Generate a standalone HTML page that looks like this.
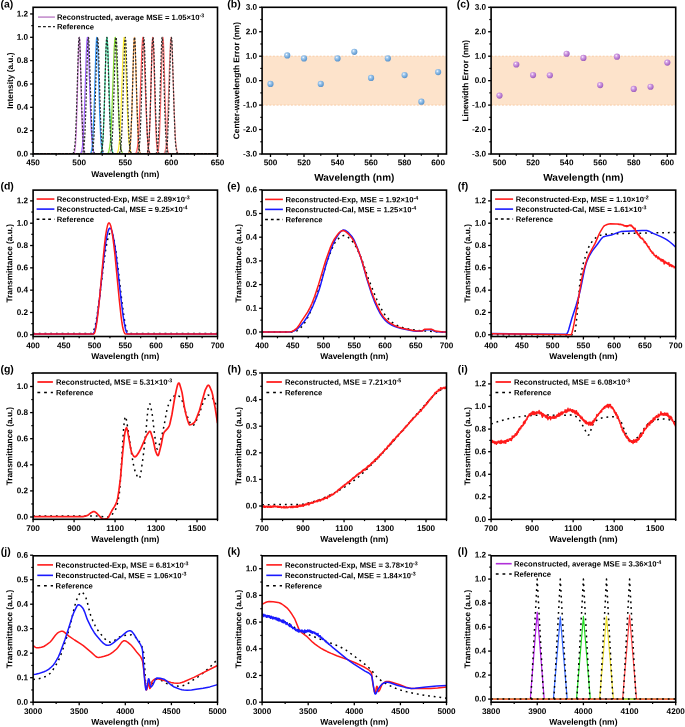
<!DOCTYPE html>
<html><head><meta charset="utf-8"><style>
html,body{margin:0;padding:0;background:#fff;}
svg{display:block;font-family:"Liberation Sans", sans-serif;will-change:transform;text-rendering:geometricPrecision;}
</style></head><body>
<svg width="685" height="727" viewBox="0 0 685 727">
<rect width="685" height="727" fill="#fff"/>
<clipPath id="c00"><rect x="33.1" y="7.3" width="184.4" height="146.7"/></clipPath>
<line x1="33.1" y1="154" x2="33.1" y2="157" stroke="#000" stroke-width="1.3"/>
<line x1="79.2" y1="154" x2="79.2" y2="157" stroke="#000" stroke-width="1.3"/>
<line x1="125.3" y1="154" x2="125.3" y2="157" stroke="#000" stroke-width="1.3"/>
<line x1="171.4" y1="154" x2="171.4" y2="157" stroke="#000" stroke-width="1.3"/>
<line x1="217.5" y1="154" x2="217.5" y2="157" stroke="#000" stroke-width="1.3"/>
<line x1="56.15" y1="154" x2="56.15" y2="155.8" stroke="#000" stroke-width="1.2"/>
<line x1="102.25" y1="154" x2="102.25" y2="155.8" stroke="#000" stroke-width="1.2"/>
<line x1="148.35" y1="154" x2="148.35" y2="155.8" stroke="#000" stroke-width="1.2"/>
<line x1="194.45" y1="154" x2="194.45" y2="155.8" stroke="#000" stroke-width="1.2"/>
<line x1="33.1" y1="154" x2="30.1" y2="154" stroke="#000" stroke-width="1.3"/>
<line x1="33.1" y1="130.66" x2="30.1" y2="130.66" stroke="#000" stroke-width="1.3"/>
<line x1="33.1" y1="107.32" x2="30.1" y2="107.32" stroke="#000" stroke-width="1.3"/>
<line x1="33.1" y1="83.98" x2="30.1" y2="83.98" stroke="#000" stroke-width="1.3"/>
<line x1="33.1" y1="60.64" x2="30.1" y2="60.64" stroke="#000" stroke-width="1.3"/>
<line x1="33.1" y1="37.3" x2="30.1" y2="37.3" stroke="#000" stroke-width="1.3"/>
<line x1="33.1" y1="13.96" x2="30.1" y2="13.96" stroke="#000" stroke-width="1.3"/>
<line x1="33.1" y1="142.33" x2="31.3" y2="142.33" stroke="#000" stroke-width="1.2"/>
<line x1="33.1" y1="118.99" x2="31.3" y2="118.99" stroke="#000" stroke-width="1.2"/>
<line x1="33.1" y1="95.65" x2="31.3" y2="95.65" stroke="#000" stroke-width="1.2"/>
<line x1="33.1" y1="72.31" x2="31.3" y2="72.31" stroke="#000" stroke-width="1.2"/>
<line x1="33.1" y1="48.97" x2="31.3" y2="48.97" stroke="#000" stroke-width="1.2"/>
<line x1="33.1" y1="25.63" x2="31.3" y2="25.63" stroke="#000" stroke-width="1.2"/>
<text x="33.1" y="165.3" font-size="8.2" text-anchor="middle" font-weight="bold" transform="rotate(0.03 33.1 165.3)">450</text>
<text x="79.2" y="165.3" font-size="8.2" text-anchor="middle" font-weight="bold" transform="rotate(0.03 79.2 165.3)">500</text>
<text x="125.3" y="165.3" font-size="8.2" text-anchor="middle" font-weight="bold" transform="rotate(0.03 125.3 165.3)">550</text>
<text x="171.4" y="165.3" font-size="8.2" text-anchor="middle" font-weight="bold" transform="rotate(0.03 171.4 165.3)">600</text>
<text x="217.5" y="165.3" font-size="8.2" text-anchor="middle" font-weight="bold" transform="rotate(0.03 217.5 165.3)">650</text>
<text x="28.1" y="156.46" font-size="8.2" text-anchor="end" font-weight="bold" transform="rotate(0.03 28.1 156.46)">0.0</text>
<text x="28.1" y="133.12" font-size="8.2" text-anchor="end" font-weight="bold" transform="rotate(0.03 28.1 133.12)">0.2</text>
<text x="28.1" y="109.78" font-size="8.2" text-anchor="end" font-weight="bold" transform="rotate(0.03 28.1 109.78)">0.4</text>
<text x="28.1" y="86.44" font-size="8.2" text-anchor="end" font-weight="bold" transform="rotate(0.03 28.1 86.44)">0.6</text>
<text x="28.1" y="63.1" font-size="8.2" text-anchor="end" font-weight="bold" transform="rotate(0.03 28.1 63.1)">0.8</text>
<text x="28.1" y="39.76" font-size="8.2" text-anchor="end" font-weight="bold" transform="rotate(0.03 28.1 39.76)">1.0</text>
<text x="28.1" y="16.42" font-size="8.2" text-anchor="end" font-weight="bold" transform="rotate(0.03 28.1 16.42)">1.2</text>
<text x="125.3" y="177" font-size="8.5" text-anchor="middle" font-weight="bold" transform="rotate(0.03 125.3 177)">Wavelength (nm)</text>
<text x="0" y="0" font-size="8.3" text-anchor="middle" font-weight="bold" transform="translate(13.1,80.65) rotate(-89.97)">Intensity (a.u.)</text>
<polyline points="33.1,154.0 72.3,154.0 73.6,153.7 74.0,153.3 74.4,152.7 74.9,150.6 75.4,147.1 76.2,134.4 77.0,110.2 78.5,50.7 79.0,40.0 79.3,37.3 79.4,37.5 79.7,39.7 80.1,50.1 81.7,113.8 82.5,136.5 83.0,144.2 83.5,148.9 84.0,152.0 84.4,152.9 84.8,153.6 85.7,153.9 87.3,154.0 217.5,154.0" fill="none" stroke="#d68ae0" stroke-width="1.2" stroke-linejoin="round" clip-path="url(#c00)"/>
<polyline points="33.1,154.0 78.4,154.0 79.4,153.9 80.1,153.7 80.7,153.2 81.2,152.4 81.9,150.2 82.4,146.6 83.0,140.5 83.5,133.5 84.4,112.3 86.3,52.2 86.9,41.0 87.3,37.8 87.5,37.3 87.7,38.1 88.0,40.3 88.5,50.8 90.5,110.6 91.5,134.4 92.1,142.6 92.8,148.6 93.5,151.7 94.0,152.8 94.4,153.4 94.9,153.7 95.5,153.9 97.4,154.0 217.5,154.0" fill="none" stroke="#a060ff" stroke-width="1.2" stroke-linejoin="round" clip-path="url(#c00)"/>
<polyline points="33.1,154.0 88.2,154.0 89.2,153.9 89.9,153.7 90.4,153.4 90.8,152.7 91.5,150.6 92.1,146.9 92.7,140.5 93.1,132.7 94.0,112.5 95.8,51.4 96.4,40.0 96.6,37.9 96.8,37.3 97.1,38.3 97.3,40.9 97.8,50.1 99.7,114.4 100.6,136.1 101.2,144.2 101.8,149.1 102.5,152.1 102.8,152.9 103.3,153.5 104.2,153.9 106.1,154.0 217.5,154.0" fill="none" stroke="#3399ff" stroke-width="1.2" stroke-linejoin="round" clip-path="url(#c00)"/>
<polyline points="33.1,154.0 98.2,154.0 99.9,153.8 100.4,153.5 100.9,153.0 101.3,152.1 101.7,150.8 102.2,147.4 102.8,141.2 103.3,133.7 104.2,110.4 105.9,52.6 106.5,40.6 106.7,38.2 107.0,37.3 107.2,38.0 107.4,40.3 108.0,52.1 109.9,113.4 110.8,135.5 111.2,142.5 111.8,148.1 112.5,151.6 112.9,152.6 113.3,153.3 113.8,153.7 114.2,153.9 116.1,154.0 217.5,154.0" fill="none" stroke="#33dd99" stroke-width="1.2" stroke-linejoin="round" clip-path="url(#c00)"/>
<polyline points="33.1,154.0 105.0,154.0 107.0,153.8 107.7,153.4 108.1,152.9 108.6,152.1 109.0,150.7 109.7,146.9 110.3,141.7 110.9,133.8 111.9,111.8 114.1,50.1 114.7,40.5 115.0,37.7 115.3,37.3 115.5,38.0 115.8,41.2 116.4,51.5 118.6,113.4 119.7,134.8 120.2,142.4 120.9,148.1 121.6,151.3 122.1,152.5 122.5,153.2 123.0,153.6 123.6,153.8 125.6,154.0 217.5,154.0" fill="none" stroke="#88dd33" stroke-width="1.2" stroke-linejoin="round" clip-path="url(#c00)"/>
<polyline points="33.1,154.0 114.1,154.0 116.2,153.8 116.8,153.5 117.2,153.0 117.7,152.2 118.2,150.8 118.8,147.1 119.4,141.8 120.0,133.6 121.0,110.7 123.1,50.4 123.7,40.4 124.0,37.7 124.1,37.3 124.3,37.3 124.5,38.2 124.8,41.7 125.4,52.8 127.4,110.3 128.4,133.4 129.0,141.6 129.7,147.8 130.4,151.2 130.8,152.4 131.3,153.2 131.8,153.6 132.3,153.8 134.3,154.0 217.5,154.0" fill="none" stroke="#ffee33" stroke-width="1.2" stroke-linejoin="round" clip-path="url(#c00)"/>
<polyline points="33.1,154.0 126.0,154.0 127.7,153.9 128.5,153.4 129.0,152.6 129.3,151.6 129.9,148.6 130.5,142.7 130.9,135.1 131.8,114.0 133.5,51.7 133.9,41.2 134.2,38.3 134.4,37.3 134.6,38.1 134.9,40.8 135.3,51.0 137.1,113.1 137.9,134.5 138.3,142.3 138.9,148.4 139.5,151.5 140.2,153.2 140.6,153.7 141.1,153.9 142.7,154.0 217.5,154.0" fill="none" stroke="#ffaa55" stroke-width="1.2" stroke-linejoin="round" clip-path="url(#c00)"/>
<polyline points="33.1,154.0 132.6,154.0 134.6,153.8 135.2,153.6 135.7,153.3 136.1,152.6 136.6,151.5 137.3,148.5 138.0,142.8 138.6,135.2 139.6,113.5 141.8,50.6 142.4,40.6 142.7,37.7 142.9,37.3 143.2,38.1 143.5,41.4 144.1,52.1 146.2,112.2 147.2,134.4 147.8,142.2 148.3,147.4 149.0,150.9 149.4,152.0 149.8,152.9 150.3,153.4 150.9,153.8 151.7,153.9 152.8,154.0 217.5,154.0" fill="none" stroke="#ff5555" stroke-width="1.2" stroke-linejoin="round" clip-path="url(#c00)"/>
<polyline points="33.1,154.0 144.4,154.0 146.2,153.9 147.0,153.5 147.4,152.8 147.8,151.9 148.3,148.9 148.9,143.0 149.4,135.2 150.2,113.4 151.9,49.5 152.4,39.8 152.7,37.3 153.0,38.1 153.2,40.9 153.7,51.7 155.3,112.1 156.1,134.5 156.5,142.5 157.0,147.7 157.6,151.3 158.1,153.0 158.5,153.4 159.0,153.8 160.5,154.0 217.5,154.0" fill="none" stroke="#ff6060" stroke-width="1.2" stroke-linejoin="round" clip-path="url(#c00)"/>
<polyline points="33.1,154.0 154.5,154.0 156.2,153.9 157.0,153.6 157.5,153.0 157.8,152.2 158.5,148.9 159.1,143.1 159.5,135.5 160.3,114.4 162.1,51.3 162.5,40.9 162.8,38.1 163.0,37.3 163.2,38.4 163.4,41.3 163.9,52.2 165.5,111.5 166.3,133.8 166.8,141.9 167.3,147.2 167.8,151.0 168.4,152.8 168.7,153.3 169.2,153.7 169.8,153.9 170.7,154.0 217.5,154.0" fill="none" stroke="#ff7070" stroke-width="1.2" stroke-linejoin="round" clip-path="url(#c00)"/>
<polyline points="33.1,154.0 160.8,154.0 162.9,153.9 163.9,153.5 164.4,153.0 164.8,152.1 165.3,150.5 165.6,148.8 166.3,143.1 166.9,135.3 167.9,112.5 170.0,50.3 170.6,40.1 170.8,38.1 171.1,37.3 171.3,37.8 171.6,41.0 172.2,51.9 174.2,111.2 175.1,132.5 175.5,139.7 176.1,146.0 176.7,149.8 177.3,152.0 177.7,152.9 178.3,153.5 179.0,153.8 180.0,154.0 217.5,154.0" fill="none" stroke="#f08a8a" stroke-width="1.2" stroke-linejoin="round" clip-path="url(#c00)"/>
<polyline points="33.1,154.0 71.2,154.0 72.2,153.9 72.7,153.7 73.2,153.2 73.7,152.4 74.2,150.2 74.8,146.0 75.3,140.4 75.7,132.1 76.5,110.4 78.3,50.4 78.7,40.7 79.0,38.2 79.2,37.3 79.4,38.2 79.7,40.7 80.1,50.4 82.0,114.0 82.9,136.6 83.3,143.5 83.9,148.9 84.6,152.1 85.0,152.9 85.4,153.5 86.3,153.9 88.2,154.0 217.5,154.0" fill="none" stroke="#2a2a2a" stroke-width="1.2" stroke-linejoin="round" stroke-dasharray="2.1,1.5" clip-path="url(#c00)"/>
<polyline points="33.1,154.0 80.4,154.0 81.3,153.9 81.9,153.7 82.3,153.4 82.8,152.7 83.5,150.2 84.0,146.0 84.5,140.4 85.0,132.1 85.8,110.4 87.5,50.4 88.0,40.7 88.2,38.2 88.4,37.3 88.7,38.2 88.9,40.7 89.3,50.4 91.2,114.0 92.1,136.6 92.6,143.5 93.1,148.9 93.8,152.1 94.2,152.9 94.6,153.5 95.6,153.9 97.3,154.0 217.5,154.0" fill="none" stroke="#2a2a2a" stroke-width="1.2" stroke-linejoin="round" stroke-dasharray="2.1,1.5" clip-path="url(#c00)"/>
<polyline points="33.1,154.0 89.3,154.0 91.0,153.8 91.4,153.5 91.9,152.9 92.6,150.8 93.1,147.1 93.6,142.0 94.1,134.4 95.0,110.4 96.7,50.4 97.2,40.7 97.4,38.2 97.6,37.3 97.9,38.2 98.1,40.7 98.6,50.4 100.4,114.0 101.3,136.6 101.8,143.5 102.4,148.9 103.1,152.1 103.4,152.9 103.9,153.5 104.8,153.9 106.5,154.0 217.5,154.0" fill="none" stroke="#2a2a2a" stroke-width="1.2" stroke-linejoin="round" stroke-dasharray="2.1,1.5" clip-path="url(#c00)"/>
<polyline points="33.1,154.0 98.4,154.0 100.1,153.8 100.5,153.6 101.0,153.1 101.7,151.3 102.2,148.0 102.8,142.0 103.3,134.4 104.2,110.4 105.9,50.4 106.4,40.7 106.6,38.2 106.9,37.3 107.1,38.2 107.3,40.7 107.8,50.4 109.5,110.4 110.4,134.4 110.9,142.0 111.5,148.0 112.2,151.7 112.5,152.7 113.0,153.4 113.4,153.7 113.9,153.9 115.6,154.0 217.5,154.0" fill="none" stroke="#2a2a2a" stroke-width="1.2" stroke-linejoin="round" stroke-dasharray="2.1,1.5" clip-path="url(#c00)"/>
<polyline points="33.1,154.0 107.6,154.0 109.3,153.8 109.7,153.6 110.2,153.1 110.9,151.3 111.5,148.0 112.0,142.0 112.5,134.4 113.4,110.4 115.2,50.4 115.6,40.7 115.8,38.2 116.1,37.3 116.3,38.2 116.5,40.7 117.0,50.4 118.7,110.4 119.7,134.4 120.1,142.0 120.7,148.0 121.4,151.7 121.7,152.7 122.2,153.4 122.6,153.7 123.1,153.9 124.8,154.0 217.5,154.0" fill="none" stroke="#2a2a2a" stroke-width="1.2" stroke-linejoin="round" stroke-dasharray="2.1,1.5" clip-path="url(#c00)"/>
<polyline points="33.1,154.0 116.7,154.0 118.4,153.9 118.8,153.7 119.3,153.2 119.8,152.4 120.1,151.3 120.7,148.0 121.3,142.0 121.7,134.4 122.6,110.4 124.4,50.4 124.8,40.7 125.1,38.2 125.3,37.3 125.5,38.2 125.8,40.7 126.2,50.4 128.0,110.4 128.9,134.4 129.3,142.0 129.9,148.0 130.5,151.3 130.8,152.4 131.3,153.2 131.8,153.7 132.2,153.9 133.9,154.0 217.5,154.0" fill="none" stroke="#2a2a2a" stroke-width="1.2" stroke-linejoin="round" stroke-dasharray="2.1,1.5" clip-path="url(#c00)"/>
<polyline points="33.1,154.0 125.8,154.0 127.5,153.9 128.0,153.7 128.4,153.4 128.9,152.7 129.2,151.7 129.9,148.0 130.5,142.0 130.9,134.4 131.9,110.4 133.6,50.4 134.1,40.7 134.3,38.2 134.5,37.3 134.8,38.2 135.0,40.7 135.4,50.4 137.2,110.4 138.1,134.4 138.6,142.0 139.1,148.0 139.7,151.3 140.4,153.1 140.9,153.6 141.3,153.8 143.0,154.0 217.5,154.0" fill="none" stroke="#2a2a2a" stroke-width="1.2" stroke-linejoin="round" stroke-dasharray="2.1,1.5" clip-path="url(#c00)"/>
<polyline points="33.1,154.0 135.0,154.0 136.7,153.9 137.2,153.7 137.6,153.4 138.1,152.7 138.4,151.7 139.1,148.0 139.7,142.0 140.2,134.4 141.1,110.4 142.8,50.4 143.3,40.7 143.5,38.2 143.7,37.3 144.0,38.2 144.2,40.7 144.7,50.4 146.4,110.4 147.3,134.4 147.8,142.0 148.3,148.0 148.9,151.3 149.6,153.1 150.1,153.6 150.5,153.8 152.2,154.0 217.5,154.0" fill="none" stroke="#2a2a2a" stroke-width="1.2" stroke-linejoin="round" stroke-dasharray="2.1,1.5" clip-path="url(#c00)"/>
<polyline points="33.1,154.0 144.1,154.0 145.8,153.9 146.7,153.5 147.2,152.9 147.5,152.1 148.2,148.9 148.8,143.5 149.3,136.6 150.2,114.0 152.0,50.4 152.5,40.7 152.7,38.2 153.0,37.3 153.2,38.2 153.4,40.7 153.9,50.4 155.6,110.4 156.5,134.4 157.0,142.0 157.5,147.1 158.0,150.8 158.7,152.9 159.2,153.5 159.6,153.8 161.3,154.0 217.5,154.0" fill="none" stroke="#2a2a2a" stroke-width="1.2" stroke-linejoin="round" stroke-dasharray="2.1,1.5" clip-path="url(#c00)"/>
<polyline points="33.1,154.0 153.3,154.0 155.0,153.9 156.0,153.5 156.4,152.9 156.8,152.1 157.5,148.9 158.0,143.5 158.5,136.6 159.4,114.0 161.3,50.4 161.7,40.7 161.9,38.2 162.2,37.3 162.4,38.2 162.6,40.7 163.1,50.4 164.8,110.4 165.6,132.1 166.1,140.4 166.6,146.0 167.1,150.2 167.8,152.7 168.3,153.4 168.7,153.7 169.3,153.9 170.2,154.0 217.5,154.0" fill="none" stroke="#2a2a2a" stroke-width="1.2" stroke-linejoin="round" stroke-dasharray="2.1,1.5" clip-path="url(#c00)"/>
<polyline points="33.1,154.0 162.4,154.0 164.3,153.9 165.2,153.5 165.6,152.9 166.0,152.1 166.7,148.9 167.3,143.5 167.7,136.6 168.6,114.0 170.5,50.4 170.9,40.7 171.2,38.2 171.4,37.3 171.6,38.2 171.9,40.7 172.3,50.4 174.1,110.4 174.9,132.1 175.3,140.4 175.8,146.0 176.4,150.2 176.9,152.4 177.4,153.2 177.9,153.7 178.4,153.9 179.4,154.0 217.5,154.0" fill="none" stroke="#2a2a2a" stroke-width="1.2" stroke-linejoin="round" stroke-dasharray="2.1,1.5" clip-path="url(#c00)"/>
<rect x="33.1" y="7.3" width="184.4" height="146.7" fill="none" stroke="#000" stroke-width="1.6"/>
<line x1="38" y1="17.1" x2="54.9" y2="17.1" stroke="#c58fcd" stroke-width="1.6"/>
<text x="56.9" y="19.87" font-size="7.7" text-anchor="start" font-weight="bold" transform="rotate(0.03 56.9 19.87)">Reconstructed, average MSE = 1.05×10<tspan dy="-2.6" font-size="5.3">-3</tspan></text>
<line x1="38" y1="26.6" x2="54.9" y2="26.6" stroke="#222" stroke-width="1.2" stroke-dasharray="2.85,2.15"/>
<text x="56.9" y="29.37" font-size="7.7" text-anchor="start" font-weight="bold" transform="rotate(0.03 56.9 29.37)">Reference</text>
<text x="0.4" y="7.6" font-size="10.5" text-anchor="start" font-weight="bold" transform="rotate(0.03 0.4 7.6)">(a)</text>
<defs><radialGradient id="gb" cx="0.38" cy="0.35" r="0.7"><stop offset="0" stop-color="#ffffff"/><stop offset="0.25" stop-color="#a8cdf0"/><stop offset="0.7" stop-color="#6fa6d8"/><stop offset="1" stop-color="#5a90c8"/></radialGradient><radialGradient id="gp" cx="0.38" cy="0.35" r="0.7"><stop offset="0" stop-color="#ffffff"/><stop offset="0.25" stop-color="#d9a8e8"/><stop offset="0.7" stop-color="#b274cc"/><stop offset="1" stop-color="#9a5ab8"/></radialGradient></defs>
<rect x="262.1" y="56.2" width="184.4" height="48.9" fill="#fde3cb"/>
<line x1="262.1" y1="56.2" x2="446.5" y2="56.2" stroke="#f8c498" stroke-width="0.8" stroke-dasharray="2,1.6"/>
<line x1="262.1" y1="105.1" x2="446.5" y2="105.1" stroke="#f8c498" stroke-width="0.8" stroke-dasharray="2,1.6"/>
<clipPath id="c10"><rect x="262.1" y="7.3" width="184.4" height="146.7"/></clipPath>
<line x1="270.48" y1="154" x2="270.48" y2="157" stroke="#000" stroke-width="1.3"/>
<line x1="304.01" y1="154" x2="304.01" y2="157" stroke="#000" stroke-width="1.3"/>
<line x1="337.54" y1="154" x2="337.54" y2="157" stroke="#000" stroke-width="1.3"/>
<line x1="371.06" y1="154" x2="371.06" y2="157" stroke="#000" stroke-width="1.3"/>
<line x1="404.59" y1="154" x2="404.59" y2="157" stroke="#000" stroke-width="1.3"/>
<line x1="438.12" y1="154" x2="438.12" y2="157" stroke="#000" stroke-width="1.3"/>
<line x1="287.25" y1="154" x2="287.25" y2="155.8" stroke="#000" stroke-width="1.2"/>
<line x1="320.77" y1="154" x2="320.77" y2="155.8" stroke="#000" stroke-width="1.2"/>
<line x1="354.3" y1="154" x2="354.3" y2="155.8" stroke="#000" stroke-width="1.2"/>
<line x1="387.83" y1="154" x2="387.83" y2="155.8" stroke="#000" stroke-width="1.2"/>
<line x1="421.35" y1="154" x2="421.35" y2="155.8" stroke="#000" stroke-width="1.2"/>
<line x1="262.1" y1="154" x2="259.1" y2="154" stroke="#000" stroke-width="1.3"/>
<line x1="262.1" y1="129.55" x2="259.1" y2="129.55" stroke="#000" stroke-width="1.3"/>
<line x1="262.1" y1="105.1" x2="259.1" y2="105.1" stroke="#000" stroke-width="1.3"/>
<line x1="262.1" y1="80.65" x2="259.1" y2="80.65" stroke="#000" stroke-width="1.3"/>
<line x1="262.1" y1="56.2" x2="259.1" y2="56.2" stroke="#000" stroke-width="1.3"/>
<line x1="262.1" y1="31.75" x2="259.1" y2="31.75" stroke="#000" stroke-width="1.3"/>
<line x1="262.1" y1="7.3" x2="259.1" y2="7.3" stroke="#000" stroke-width="1.3"/>
<line x1="262.1" y1="141.78" x2="260.3" y2="141.78" stroke="#000" stroke-width="1.2"/>
<line x1="262.1" y1="117.33" x2="260.3" y2="117.33" stroke="#000" stroke-width="1.2"/>
<line x1="262.1" y1="92.88" x2="260.3" y2="92.88" stroke="#000" stroke-width="1.2"/>
<line x1="262.1" y1="68.43" x2="260.3" y2="68.43" stroke="#000" stroke-width="1.2"/>
<line x1="262.1" y1="43.98" x2="260.3" y2="43.98" stroke="#000" stroke-width="1.2"/>
<line x1="262.1" y1="19.53" x2="260.3" y2="19.53" stroke="#000" stroke-width="1.2"/>
<text x="270.48" y="165.3" font-size="8.2" text-anchor="middle" font-weight="bold" transform="rotate(0.03 270.48 165.3)">500</text>
<text x="304.01" y="165.3" font-size="8.2" text-anchor="middle" font-weight="bold" transform="rotate(0.03 304.01 165.3)">520</text>
<text x="337.54" y="165.3" font-size="8.2" text-anchor="middle" font-weight="bold" transform="rotate(0.03 337.54 165.3)">540</text>
<text x="371.06" y="165.3" font-size="8.2" text-anchor="middle" font-weight="bold" transform="rotate(0.03 371.06 165.3)">560</text>
<text x="404.59" y="165.3" font-size="8.2" text-anchor="middle" font-weight="bold" transform="rotate(0.03 404.59 165.3)">580</text>
<text x="438.12" y="165.3" font-size="8.2" text-anchor="middle" font-weight="bold" transform="rotate(0.03 438.12 165.3)">600</text>
<text x="257.1" y="156.46" font-size="8.2" text-anchor="end" font-weight="bold" transform="rotate(0.03 257.1 156.46)">-3.0</text>
<text x="257.1" y="132.01" font-size="8.2" text-anchor="end" font-weight="bold" transform="rotate(0.03 257.1 132.01)">-2.0</text>
<text x="257.1" y="107.56" font-size="8.2" text-anchor="end" font-weight="bold" transform="rotate(0.03 257.1 107.56)">-1.0</text>
<text x="257.1" y="83.11" font-size="8.2" text-anchor="end" font-weight="bold" transform="rotate(0.03 257.1 83.11)">0.0</text>
<text x="257.1" y="58.66" font-size="8.2" text-anchor="end" font-weight="bold" transform="rotate(0.03 257.1 58.66)">1.0</text>
<text x="257.1" y="34.21" font-size="8.2" text-anchor="end" font-weight="bold" transform="rotate(0.03 257.1 34.21)">2.0</text>
<text x="257.1" y="9.76" font-size="8.2" text-anchor="end" font-weight="bold" transform="rotate(0.03 257.1 9.76)">3.0</text>
<text x="354.3" y="180.7" font-size="10" text-anchor="middle" font-weight="bold" transform="rotate(0.03 354.3 180.7)">Wavelength (nm)</text>
<text x="0" y="0" font-size="8.3" text-anchor="middle" font-weight="bold" transform="translate(239.2,80.65) rotate(-89.97)">Center-wavelength Error (nm)</text>
<circle cx="270.48" cy="83.95" r="3.1" fill="url(#gb)"/>
<circle cx="287.25" cy="55.47" r="3.1" fill="url(#gb)"/>
<circle cx="304.01" cy="58.4" r="3.1" fill="url(#gb)"/>
<circle cx="320.77" cy="83.95" r="3.1" fill="url(#gb)"/>
<circle cx="337.54" cy="58.4" r="3.1" fill="url(#gb)"/>
<circle cx="354.3" cy="51.8" r="3.1" fill="url(#gb)"/>
<circle cx="371.06" cy="77.96" r="3.1" fill="url(#gb)"/>
<circle cx="387.83" cy="58.4" r="3.1" fill="url(#gb)"/>
<circle cx="404.59" cy="75.03" r="3.1" fill="url(#gb)"/>
<circle cx="421.35" cy="101.68" r="3.1" fill="url(#gb)"/>
<circle cx="438.12" cy="72.09" r="3.1" fill="url(#gb)"/>
<rect x="262.1" y="7.3" width="184.4" height="146.7" fill="none" stroke="#000" stroke-width="1.6"/>
<text x="227.3" y="7.6" font-size="10.5" text-anchor="start" font-weight="bold" transform="rotate(0.03 227.3 7.6)">(b)</text>
<rect x="491.1" y="56.2" width="184.6" height="48.9" fill="#fde3cb"/>
<line x1="491.1" y1="56.2" x2="675.7" y2="56.2" stroke="#f8c498" stroke-width="0.8" stroke-dasharray="2,1.6"/>
<line x1="491.1" y1="105.1" x2="675.7" y2="105.1" stroke="#f8c498" stroke-width="0.8" stroke-dasharray="2,1.6"/>
<clipPath id="c20"><rect x="491.1" y="7.3" width="184.6" height="146.7"/></clipPath>
<line x1="499.49" y1="154" x2="499.49" y2="157" stroke="#000" stroke-width="1.3"/>
<line x1="533.05" y1="154" x2="533.05" y2="157" stroke="#000" stroke-width="1.3"/>
<line x1="566.62" y1="154" x2="566.62" y2="157" stroke="#000" stroke-width="1.3"/>
<line x1="600.18" y1="154" x2="600.18" y2="157" stroke="#000" stroke-width="1.3"/>
<line x1="633.75" y1="154" x2="633.75" y2="157" stroke="#000" stroke-width="1.3"/>
<line x1="667.31" y1="154" x2="667.31" y2="157" stroke="#000" stroke-width="1.3"/>
<line x1="516.27" y1="154" x2="516.27" y2="155.8" stroke="#000" stroke-width="1.2"/>
<line x1="549.84" y1="154" x2="549.84" y2="155.8" stroke="#000" stroke-width="1.2"/>
<line x1="583.4" y1="154" x2="583.4" y2="155.8" stroke="#000" stroke-width="1.2"/>
<line x1="616.96" y1="154" x2="616.96" y2="155.8" stroke="#000" stroke-width="1.2"/>
<line x1="650.53" y1="154" x2="650.53" y2="155.8" stroke="#000" stroke-width="1.2"/>
<line x1="491.1" y1="154" x2="488.1" y2="154" stroke="#000" stroke-width="1.3"/>
<line x1="491.1" y1="129.55" x2="488.1" y2="129.55" stroke="#000" stroke-width="1.3"/>
<line x1="491.1" y1="105.1" x2="488.1" y2="105.1" stroke="#000" stroke-width="1.3"/>
<line x1="491.1" y1="80.65" x2="488.1" y2="80.65" stroke="#000" stroke-width="1.3"/>
<line x1="491.1" y1="56.2" x2="488.1" y2="56.2" stroke="#000" stroke-width="1.3"/>
<line x1="491.1" y1="31.75" x2="488.1" y2="31.75" stroke="#000" stroke-width="1.3"/>
<line x1="491.1" y1="7.3" x2="488.1" y2="7.3" stroke="#000" stroke-width="1.3"/>
<line x1="491.1" y1="141.78" x2="489.3" y2="141.78" stroke="#000" stroke-width="1.2"/>
<line x1="491.1" y1="117.33" x2="489.3" y2="117.33" stroke="#000" stroke-width="1.2"/>
<line x1="491.1" y1="92.88" x2="489.3" y2="92.88" stroke="#000" stroke-width="1.2"/>
<line x1="491.1" y1="68.43" x2="489.3" y2="68.43" stroke="#000" stroke-width="1.2"/>
<line x1="491.1" y1="43.98" x2="489.3" y2="43.98" stroke="#000" stroke-width="1.2"/>
<line x1="491.1" y1="19.53" x2="489.3" y2="19.53" stroke="#000" stroke-width="1.2"/>
<text x="499.49" y="165.3" font-size="8.2" text-anchor="middle" font-weight="bold" transform="rotate(0.03 499.49 165.3)">500</text>
<text x="533.05" y="165.3" font-size="8.2" text-anchor="middle" font-weight="bold" transform="rotate(0.03 533.05 165.3)">520</text>
<text x="566.62" y="165.3" font-size="8.2" text-anchor="middle" font-weight="bold" transform="rotate(0.03 566.62 165.3)">540</text>
<text x="600.18" y="165.3" font-size="8.2" text-anchor="middle" font-weight="bold" transform="rotate(0.03 600.18 165.3)">560</text>
<text x="633.75" y="165.3" font-size="8.2" text-anchor="middle" font-weight="bold" transform="rotate(0.03 633.75 165.3)">580</text>
<text x="667.31" y="165.3" font-size="8.2" text-anchor="middle" font-weight="bold" transform="rotate(0.03 667.31 165.3)">600</text>
<text x="486.1" y="156.46" font-size="8.2" text-anchor="end" font-weight="bold" transform="rotate(0.03 486.1 156.46)">-3.0</text>
<text x="486.1" y="132.01" font-size="8.2" text-anchor="end" font-weight="bold" transform="rotate(0.03 486.1 132.01)">-2.0</text>
<text x="486.1" y="107.56" font-size="8.2" text-anchor="end" font-weight="bold" transform="rotate(0.03 486.1 107.56)">-1.0</text>
<text x="486.1" y="83.11" font-size="8.2" text-anchor="end" font-weight="bold" transform="rotate(0.03 486.1 83.11)">0.0</text>
<text x="486.1" y="58.66" font-size="8.2" text-anchor="end" font-weight="bold" transform="rotate(0.03 486.1 58.66)">1.0</text>
<text x="486.1" y="34.21" font-size="8.2" text-anchor="end" font-weight="bold" transform="rotate(0.03 486.1 34.21)">2.0</text>
<text x="486.1" y="9.76" font-size="8.2" text-anchor="end" font-weight="bold" transform="rotate(0.03 486.1 9.76)">3.0</text>
<text x="583.4" y="180.7" font-size="10" text-anchor="middle" font-weight="bold" transform="rotate(0.03 583.4 180.7)">Wavelength (nm)</text>
<text x="0" y="0" font-size="8.3" text-anchor="middle" font-weight="bold" transform="translate(468.2,80.65) rotate(-89.97)">Linewidth Error (nm)</text>
<circle cx="499.49" cy="95.56" r="3.1" fill="url(#gp)"/>
<circle cx="516.27" cy="64.51" r="3.1" fill="url(#gp)"/>
<circle cx="533.05" cy="75.03" r="3.1" fill="url(#gp)"/>
<circle cx="549.84" cy="75.27" r="3.1" fill="url(#gp)"/>
<circle cx="566.62" cy="53.76" r="3.1" fill="url(#gp)"/>
<circle cx="583.4" cy="57.91" r="3.1" fill="url(#gp)"/>
<circle cx="600.18" cy="85.05" r="3.1" fill="url(#gp)"/>
<circle cx="616.96" cy="56.69" r="3.1" fill="url(#gp)"/>
<circle cx="633.75" cy="88.96" r="3.1" fill="url(#gp)"/>
<circle cx="650.53" cy="86.76" r="3.1" fill="url(#gp)"/>
<circle cx="667.31" cy="62.56" r="3.1" fill="url(#gp)"/>
<rect x="491.1" y="7.3" width="184.6" height="146.7" fill="none" stroke="#000" stroke-width="1.6"/>
<text x="456.8" y="7.6" font-size="10.5" text-anchor="start" font-weight="bold" transform="rotate(0.03 456.8 7.6)">(c)</text>
<clipPath id="c01"><rect x="33.1" y="190.1" width="184.4" height="146.4"/></clipPath>
<line x1="33.1" y1="336.5" x2="33.1" y2="339.5" stroke="#000" stroke-width="1.3"/>
<line x1="63.83" y1="336.5" x2="63.83" y2="339.5" stroke="#000" stroke-width="1.3"/>
<line x1="94.57" y1="336.5" x2="94.57" y2="339.5" stroke="#000" stroke-width="1.3"/>
<line x1="125.3" y1="336.5" x2="125.3" y2="339.5" stroke="#000" stroke-width="1.3"/>
<line x1="156.03" y1="336.5" x2="156.03" y2="339.5" stroke="#000" stroke-width="1.3"/>
<line x1="186.77" y1="336.5" x2="186.77" y2="339.5" stroke="#000" stroke-width="1.3"/>
<line x1="217.5" y1="336.5" x2="217.5" y2="339.5" stroke="#000" stroke-width="1.3"/>
<line x1="48.47" y1="336.5" x2="48.47" y2="338.3" stroke="#000" stroke-width="1.2"/>
<line x1="79.2" y1="336.5" x2="79.2" y2="338.3" stroke="#000" stroke-width="1.2"/>
<line x1="109.93" y1="336.5" x2="109.93" y2="338.3" stroke="#000" stroke-width="1.2"/>
<line x1="140.67" y1="336.5" x2="140.67" y2="338.3" stroke="#000" stroke-width="1.2"/>
<line x1="171.4" y1="336.5" x2="171.4" y2="338.3" stroke="#000" stroke-width="1.2"/>
<line x1="202.13" y1="336.5" x2="202.13" y2="338.3" stroke="#000" stroke-width="1.2"/>
<line x1="33.1" y1="334.8" x2="30.1" y2="334.8" stroke="#000" stroke-width="1.3"/>
<line x1="33.1" y1="312.48" x2="30.1" y2="312.48" stroke="#000" stroke-width="1.3"/>
<line x1="33.1" y1="290.16" x2="30.1" y2="290.16" stroke="#000" stroke-width="1.3"/>
<line x1="33.1" y1="267.84" x2="30.1" y2="267.84" stroke="#000" stroke-width="1.3"/>
<line x1="33.1" y1="245.52" x2="30.1" y2="245.52" stroke="#000" stroke-width="1.3"/>
<line x1="33.1" y1="223.2" x2="30.1" y2="223.2" stroke="#000" stroke-width="1.3"/>
<line x1="33.1" y1="200.88" x2="30.1" y2="200.88" stroke="#000" stroke-width="1.3"/>
<line x1="33.1" y1="323.64" x2="31.3" y2="323.64" stroke="#000" stroke-width="1.2"/>
<line x1="33.1" y1="301.32" x2="31.3" y2="301.32" stroke="#000" stroke-width="1.2"/>
<line x1="33.1" y1="279" x2="31.3" y2="279" stroke="#000" stroke-width="1.2"/>
<line x1="33.1" y1="256.68" x2="31.3" y2="256.68" stroke="#000" stroke-width="1.2"/>
<line x1="33.1" y1="234.36" x2="31.3" y2="234.36" stroke="#000" stroke-width="1.2"/>
<line x1="33.1" y1="212.04" x2="31.3" y2="212.04" stroke="#000" stroke-width="1.2"/>
<text x="33.1" y="348.2" font-size="8.2" text-anchor="middle" font-weight="bold" transform="rotate(0.03 33.1 348.2)">400</text>
<text x="63.83" y="348.2" font-size="8.2" text-anchor="middle" font-weight="bold" transform="rotate(0.03 63.83 348.2)">450</text>
<text x="94.57" y="348.2" font-size="8.2" text-anchor="middle" font-weight="bold" transform="rotate(0.03 94.57 348.2)">500</text>
<text x="125.3" y="348.2" font-size="8.2" text-anchor="middle" font-weight="bold" transform="rotate(0.03 125.3 348.2)">550</text>
<text x="156.03" y="348.2" font-size="8.2" text-anchor="middle" font-weight="bold" transform="rotate(0.03 156.03 348.2)">600</text>
<text x="186.77" y="348.2" font-size="8.2" text-anchor="middle" font-weight="bold" transform="rotate(0.03 186.77 348.2)">650</text>
<text x="217.5" y="348.2" font-size="8.2" text-anchor="middle" font-weight="bold" transform="rotate(0.03 217.5 348.2)">700</text>
<text x="28.1" y="337.26" font-size="8.2" text-anchor="end" font-weight="bold" transform="rotate(0.03 28.1 337.26)">0.0</text>
<text x="28.1" y="314.94" font-size="8.2" text-anchor="end" font-weight="bold" transform="rotate(0.03 28.1 314.94)">0.2</text>
<text x="28.1" y="292.62" font-size="8.2" text-anchor="end" font-weight="bold" transform="rotate(0.03 28.1 292.62)">0.4</text>
<text x="28.1" y="270.3" font-size="8.2" text-anchor="end" font-weight="bold" transform="rotate(0.03 28.1 270.3)">0.6</text>
<text x="28.1" y="247.98" font-size="8.2" text-anchor="end" font-weight="bold" transform="rotate(0.03 28.1 247.98)">0.8</text>
<text x="28.1" y="225.66" font-size="8.2" text-anchor="end" font-weight="bold" transform="rotate(0.03 28.1 225.66)">1.0</text>
<text x="28.1" y="203.34" font-size="8.2" text-anchor="end" font-weight="bold" transform="rotate(0.03 28.1 203.34)">1.2</text>
<text x="125.3" y="359.1" font-size="8.5" text-anchor="middle" font-weight="bold" transform="rotate(0.03 125.3 359.1)">Wavelength (nm)</text>
<text x="0" y="0" font-size="8.3" text-anchor="middle" font-weight="bold" transform="translate(12.2,263.3) rotate(-89.97)">Transmittance (a.u.)</text>
<polyline points="33.1,333.5 91.8,333.5 92.1,333.4 92.7,332.9 93.6,331.1 94.9,327.1 95.8,322.9 97.0,315.9 99.2,300.5 104.1,260.7 105.3,252.1 106.6,244.6 107.8,238.8 108.7,235.6 109.3,234.1 109.9,233.0 110.5,232.5 110.9,232.5 111.2,232.5 111.8,233.1 112.7,235.1 113.6,238.3 114.9,244.5 116.1,252.4 117.3,261.8 121.9,301.7 123.8,315.7 125.0,323.2 125.9,327.6 126.5,329.9 127.1,331.6 128.1,333.2 128.7,333.5 217.5,333.5" fill="none" stroke="#000" stroke-width="1.5" stroke-linejoin="round" stroke-dasharray="1.8,3.9" clip-path="url(#c01)"/>
<polyline points="33.1,334.1 92.7,334.1 93.0,334.0 93.6,333.4 94.6,331.2 95.5,327.5 96.4,322.6 97.6,314.2 99.5,298.6 103.8,258.1 105.9,241.6 107.2,234.7 108.1,231.1 109.0,228.9 109.6,228.2 109.9,228.1 110.2,228.2 110.9,228.8 111.8,230.8 112.7,234.1 113.9,240.3 115.2,248.4 116.4,257.9 121.0,299.1 123.1,316.0 124.4,323.7 125.3,328.2 125.9,330.5 126.5,332.3 127.5,333.8 128.1,334.1 217.5,334.1" fill="none" stroke="#1a1aff" stroke-width="1.5" stroke-linejoin="round" clip-path="url(#c01)"/>
<polyline points="33.1,333.9 93.6,333.9 94.0,333.8 94.3,333.5 94.6,332.9 95.2,331.2 96.1,327.0 97.0,321.2 97.9,313.8 99.5,298.8 103.5,254.7 104.7,243.0 105.6,235.6 106.6,229.7 107.5,225.6 108.1,223.8 108.4,223.3 108.7,223.0 109.0,222.9 109.3,223.0 109.9,223.7 110.9,226.3 111.8,230.6 112.7,236.3 113.6,243.4 114.9,254.5 119.2,299.3 121.0,315.9 121.9,322.5 122.8,327.8 123.8,331.5 124.7,333.5 125.0,333.8 125.3,333.9 217.5,333.9" fill="none" stroke="#ff1a1a" stroke-width="1.5" stroke-linejoin="round" clip-path="url(#c01)"/>
<rect x="33.1" y="190.1" width="184.4" height="146.4" fill="none" stroke="#000" stroke-width="1.6"/>
<line x1="36.6" y1="199.05" x2="54.4" y2="199.05" stroke="#ff1a1a" stroke-width="1.6"/>
<text x="56.8" y="201.82" font-size="7.7" text-anchor="start" font-weight="bold" transform="rotate(0.03 56.8 201.82)">Reconstructed-Exp, MSE = 2.89×10<tspan dy="-2.6" font-size="5.3">-3</tspan></text>
<line x1="36.6" y1="209.1" x2="54.4" y2="209.1" stroke="#1a1aff" stroke-width="1.6"/>
<text x="56.8" y="211.87" font-size="7.7" text-anchor="start" font-weight="bold" transform="rotate(0.03 56.8 211.87)">Reconstructed-Cal, MSE = 9.25×10<tspan dy="-2.6" font-size="5.3">-4</tspan></text>
<line x1="36.6" y1="219.15" x2="54.4" y2="219.15" stroke="#000" stroke-width="1.5" stroke-dasharray="2.8,3.0"/>
<text x="56.8" y="221.92" font-size="7.7" text-anchor="start" font-weight="bold" transform="rotate(0.03 56.8 221.92)">Reference</text>
<text x="0.4" y="189.5" font-size="10.5" text-anchor="start" font-weight="bold" transform="rotate(0.03 0.4 189.5)">(d)</text>
<clipPath id="c11"><rect x="262.1" y="190.1" width="184.4" height="146.4"/></clipPath>
<line x1="262.1" y1="336.5" x2="262.1" y2="339.5" stroke="#000" stroke-width="1.3"/>
<line x1="292.83" y1="336.5" x2="292.83" y2="339.5" stroke="#000" stroke-width="1.3"/>
<line x1="323.57" y1="336.5" x2="323.57" y2="339.5" stroke="#000" stroke-width="1.3"/>
<line x1="354.3" y1="336.5" x2="354.3" y2="339.5" stroke="#000" stroke-width="1.3"/>
<line x1="385.03" y1="336.5" x2="385.03" y2="339.5" stroke="#000" stroke-width="1.3"/>
<line x1="415.77" y1="336.5" x2="415.77" y2="339.5" stroke="#000" stroke-width="1.3"/>
<line x1="446.5" y1="336.5" x2="446.5" y2="339.5" stroke="#000" stroke-width="1.3"/>
<line x1="277.47" y1="336.5" x2="277.47" y2="338.3" stroke="#000" stroke-width="1.2"/>
<line x1="308.2" y1="336.5" x2="308.2" y2="338.3" stroke="#000" stroke-width="1.2"/>
<line x1="338.93" y1="336.5" x2="338.93" y2="338.3" stroke="#000" stroke-width="1.2"/>
<line x1="369.67" y1="336.5" x2="369.67" y2="338.3" stroke="#000" stroke-width="1.2"/>
<line x1="400.4" y1="336.5" x2="400.4" y2="338.3" stroke="#000" stroke-width="1.2"/>
<line x1="431.13" y1="336.5" x2="431.13" y2="338.3" stroke="#000" stroke-width="1.2"/>
<line x1="262.1" y1="332" x2="259.1" y2="332" stroke="#000" stroke-width="1.3"/>
<line x1="262.1" y1="308.3" x2="259.1" y2="308.3" stroke="#000" stroke-width="1.3"/>
<line x1="262.1" y1="284.6" x2="259.1" y2="284.6" stroke="#000" stroke-width="1.3"/>
<line x1="262.1" y1="260.9" x2="259.1" y2="260.9" stroke="#000" stroke-width="1.3"/>
<line x1="262.1" y1="237.2" x2="259.1" y2="237.2" stroke="#000" stroke-width="1.3"/>
<line x1="262.1" y1="213.5" x2="259.1" y2="213.5" stroke="#000" stroke-width="1.3"/>
<line x1="262.1" y1="189.8" x2="259.1" y2="189.8" stroke="#000" stroke-width="1.3"/>
<line x1="262.1" y1="320.15" x2="260.3" y2="320.15" stroke="#000" stroke-width="1.2"/>
<line x1="262.1" y1="296.45" x2="260.3" y2="296.45" stroke="#000" stroke-width="1.2"/>
<line x1="262.1" y1="272.75" x2="260.3" y2="272.75" stroke="#000" stroke-width="1.2"/>
<line x1="262.1" y1="249.05" x2="260.3" y2="249.05" stroke="#000" stroke-width="1.2"/>
<line x1="262.1" y1="225.35" x2="260.3" y2="225.35" stroke="#000" stroke-width="1.2"/>
<line x1="262.1" y1="201.65" x2="260.3" y2="201.65" stroke="#000" stroke-width="1.2"/>
<text x="262.1" y="348.2" font-size="8.2" text-anchor="middle" font-weight="bold" transform="rotate(0.03 262.1 348.2)">400</text>
<text x="292.83" y="348.2" font-size="8.2" text-anchor="middle" font-weight="bold" transform="rotate(0.03 292.83 348.2)">450</text>
<text x="323.57" y="348.2" font-size="8.2" text-anchor="middle" font-weight="bold" transform="rotate(0.03 323.57 348.2)">500</text>
<text x="354.3" y="348.2" font-size="8.2" text-anchor="middle" font-weight="bold" transform="rotate(0.03 354.3 348.2)">550</text>
<text x="385.03" y="348.2" font-size="8.2" text-anchor="middle" font-weight="bold" transform="rotate(0.03 385.03 348.2)">600</text>
<text x="415.77" y="348.2" font-size="8.2" text-anchor="middle" font-weight="bold" transform="rotate(0.03 415.77 348.2)">650</text>
<text x="446.5" y="348.2" font-size="8.2" text-anchor="middle" font-weight="bold" transform="rotate(0.03 446.5 348.2)">700</text>
<text x="257.1" y="334.46" font-size="8.2" text-anchor="end" font-weight="bold" transform="rotate(0.03 257.1 334.46)">0.0</text>
<text x="257.1" y="310.76" font-size="8.2" text-anchor="end" font-weight="bold" transform="rotate(0.03 257.1 310.76)">0.1</text>
<text x="257.1" y="287.06" font-size="8.2" text-anchor="end" font-weight="bold" transform="rotate(0.03 257.1 287.06)">0.2</text>
<text x="257.1" y="263.36" font-size="8.2" text-anchor="end" font-weight="bold" transform="rotate(0.03 257.1 263.36)">0.3</text>
<text x="257.1" y="239.66" font-size="8.2" text-anchor="end" font-weight="bold" transform="rotate(0.03 257.1 239.66)">0.4</text>
<text x="257.1" y="215.96" font-size="8.2" text-anchor="end" font-weight="bold" transform="rotate(0.03 257.1 215.96)">0.5</text>
<text x="257.1" y="192.26" font-size="8.2" text-anchor="end" font-weight="bold" transform="rotate(0.03 257.1 192.26)">0.6</text>
<text x="354.3" y="359.1" font-size="8.5" text-anchor="middle" font-weight="bold" transform="rotate(0.03 354.3 359.1)">Wavelength (nm)</text>
<text x="0" y="0" font-size="8.3" text-anchor="middle" font-weight="bold" transform="translate(241.2,263.3) rotate(-89.97)">Transmittance (a.u.)</text>
<polyline points="262.1,332.0 291.6,332.0 293.1,331.9 295.9,331.3 297.4,330.6 299.6,328.9 302.4,326.0 304.5,323.0 307.3,318.2 310.7,311.2 312.8,306.0 315.3,299.3 319.3,287.5 326.3,264.0 330.6,252.1 333.1,246.1 334.3,243.7 335.2,242.2 338.6,238.5 340.2,237.1 341.4,236.3 342.6,235.7 343.9,235.5 345.1,235.7 346.6,236.4 348.2,237.4 350.0,239.0 352.1,241.1 353.1,242.1 354.3,243.9 355.8,246.5 358.3,251.5 361.4,258.3 363.2,263.3 368.4,278.7 373.4,291.4 376.7,299.3 380.7,307.7 383.5,312.7 384.7,314.5 386.6,316.9 390.0,320.5 391.8,322.1 393.6,323.4 396.1,324.8 398.2,325.9 400.1,326.7 402.6,327.5 408.4,328.9 415.8,330.2 422.5,330.9 435.4,331.7 446.5,332.0" fill="none" stroke="#000" stroke-width="1.5" stroke-linejoin="round" stroke-dasharray="1.8,3.9" clip-path="url(#c11)"/>
<polyline points="262.1,332.0 289.8,332.0 291.6,331.8 294.4,330.9 296.2,329.8 297.8,328.5 300.5,325.8 303.3,322.6 306.7,317.8 310.0,311.9 313.1,305.5 316.2,297.9 319.0,290.2 320.5,285.4 325.4,267.1 326.9,261.9 330.9,249.7 333.4,243.2 335.2,239.6 338.0,235.1 339.5,233.0 340.8,231.6 341.7,230.8 342.6,230.3 343.5,230.1 344.8,230.3 346.0,230.8 347.5,231.9 349.1,233.4 352.1,236.8 353.4,238.8 354.6,241.2 357.1,247.2 360.4,256.4 362.0,261.5 367.2,280.1 371.5,293.4 374.3,301.1 377.0,307.3 380.4,313.8 382.9,317.5 385.6,320.7 387.8,322.6 390.0,324.2 392.1,325.3 394.9,326.5 397.9,327.5 401.3,328.4 409.9,330.2 413.9,331.1 416.4,331.3 421.9,331.1 422.5,330.9 424.7,329.7 431.1,329.6 432.1,329.8 434.5,331.3 435.4,331.5 441.0,331.9 446.5,332.0" fill="none" stroke="#1a1aff" stroke-width="1.5" stroke-linejoin="round" clip-path="url(#c11)"/>
<polyline points="262.1,332.0 287.0,332.0 290.1,331.8 291.9,331.5 293.4,330.8 295.6,329.2 297.4,327.5 298.7,325.8 301.4,321.3 307.6,312.1 310.0,307.6 311.9,303.5 314.7,296.2 318.6,284.4 323.9,266.4 325.7,260.5 330.0,248.4 332.5,242.5 334.3,239.1 337.1,235.2 338.6,233.3 339.9,232.0 340.8,231.3 342.0,230.7 342.9,230.6 344.2,230.8 345.7,231.6 347.2,232.9 348.8,234.4 351.2,237.2 352.1,238.4 353.7,240.9 355.2,243.8 358.0,250.0 360.4,256.3 362.3,262.0 367.2,278.7 371.8,292.4 374.6,299.8 378.0,307.2 381.0,313.1 383.5,316.9 386.3,319.9 388.4,321.8 390.9,323.5 394.3,325.4 397.3,326.7 399.8,327.6 402.2,328.2 413.3,330.5 415.8,330.8 421.9,331.1 422.5,330.9 424.1,329.6 424.7,329.2 431.1,329.2 432.1,329.4 434.5,330.7 435.4,331.1 441.3,331.8 446.5,332.0" fill="none" stroke="#ff1a1a" stroke-width="1.5" stroke-linejoin="round" clip-path="url(#c11)"/>
<rect x="262.1" y="190.1" width="184.4" height="146.4" fill="none" stroke="#000" stroke-width="1.6"/>
<line x1="265.1" y1="199.4" x2="282.9" y2="199.4" stroke="#ff1a1a" stroke-width="1.6"/>
<text x="285.4" y="202.17" font-size="7.7" text-anchor="start" font-weight="bold" transform="rotate(0.03 285.4 202.17)">Reconstructed-Exp, MSE = 1.92×10<tspan dy="-2.6" font-size="5.3">-4</tspan></text>
<line x1="265.1" y1="209.4" x2="282.9" y2="209.4" stroke="#1a1aff" stroke-width="1.6"/>
<text x="285.4" y="212.17" font-size="7.7" text-anchor="start" font-weight="bold" transform="rotate(0.03 285.4 212.17)">Reconstructed-Cal, MSE = 1.25×10<tspan dy="-2.6" font-size="5.3">-4</tspan></text>
<line x1="265.1" y1="219.4" x2="282.9" y2="219.4" stroke="#000" stroke-width="1.5" stroke-dasharray="2.8,3.0"/>
<text x="285.4" y="222.17" font-size="7.7" text-anchor="start" font-weight="bold" transform="rotate(0.03 285.4 222.17)">Reference</text>
<text x="227.3" y="189.4" font-size="10.5" text-anchor="start" font-weight="bold" transform="rotate(0.03 227.3 189.4)">(e)</text>
<clipPath id="c21"><rect x="491.1" y="190.1" width="184.6" height="146.4"/></clipPath>
<line x1="491.1" y1="336.5" x2="491.1" y2="339.5" stroke="#000" stroke-width="1.3"/>
<line x1="521.87" y1="336.5" x2="521.87" y2="339.5" stroke="#000" stroke-width="1.3"/>
<line x1="552.63" y1="336.5" x2="552.63" y2="339.5" stroke="#000" stroke-width="1.3"/>
<line x1="583.4" y1="336.5" x2="583.4" y2="339.5" stroke="#000" stroke-width="1.3"/>
<line x1="614.17" y1="336.5" x2="614.17" y2="339.5" stroke="#000" stroke-width="1.3"/>
<line x1="644.93" y1="336.5" x2="644.93" y2="339.5" stroke="#000" stroke-width="1.3"/>
<line x1="675.7" y1="336.5" x2="675.7" y2="339.5" stroke="#000" stroke-width="1.3"/>
<line x1="506.48" y1="336.5" x2="506.48" y2="338.3" stroke="#000" stroke-width="1.2"/>
<line x1="537.25" y1="336.5" x2="537.25" y2="338.3" stroke="#000" stroke-width="1.2"/>
<line x1="568.02" y1="336.5" x2="568.02" y2="338.3" stroke="#000" stroke-width="1.2"/>
<line x1="598.78" y1="336.5" x2="598.78" y2="338.3" stroke="#000" stroke-width="1.2"/>
<line x1="629.55" y1="336.5" x2="629.55" y2="338.3" stroke="#000" stroke-width="1.2"/>
<line x1="660.32" y1="336.5" x2="660.32" y2="338.3" stroke="#000" stroke-width="1.2"/>
<line x1="491.1" y1="334.8" x2="488.1" y2="334.8" stroke="#000" stroke-width="1.3"/>
<line x1="491.1" y1="312.48" x2="488.1" y2="312.48" stroke="#000" stroke-width="1.3"/>
<line x1="491.1" y1="290.16" x2="488.1" y2="290.16" stroke="#000" stroke-width="1.3"/>
<line x1="491.1" y1="267.84" x2="488.1" y2="267.84" stroke="#000" stroke-width="1.3"/>
<line x1="491.1" y1="245.52" x2="488.1" y2="245.52" stroke="#000" stroke-width="1.3"/>
<line x1="491.1" y1="223.2" x2="488.1" y2="223.2" stroke="#000" stroke-width="1.3"/>
<line x1="491.1" y1="200.88" x2="488.1" y2="200.88" stroke="#000" stroke-width="1.3"/>
<line x1="491.1" y1="323.64" x2="489.3" y2="323.64" stroke="#000" stroke-width="1.2"/>
<line x1="491.1" y1="301.32" x2="489.3" y2="301.32" stroke="#000" stroke-width="1.2"/>
<line x1="491.1" y1="279" x2="489.3" y2="279" stroke="#000" stroke-width="1.2"/>
<line x1="491.1" y1="256.68" x2="489.3" y2="256.68" stroke="#000" stroke-width="1.2"/>
<line x1="491.1" y1="234.36" x2="489.3" y2="234.36" stroke="#000" stroke-width="1.2"/>
<line x1="491.1" y1="212.04" x2="489.3" y2="212.04" stroke="#000" stroke-width="1.2"/>
<text x="491.1" y="348.2" font-size="8.2" text-anchor="middle" font-weight="bold" transform="rotate(0.03 491.1 348.2)">400</text>
<text x="521.87" y="348.2" font-size="8.2" text-anchor="middle" font-weight="bold" transform="rotate(0.03 521.87 348.2)">450</text>
<text x="552.63" y="348.2" font-size="8.2" text-anchor="middle" font-weight="bold" transform="rotate(0.03 552.63 348.2)">500</text>
<text x="583.4" y="348.2" font-size="8.2" text-anchor="middle" font-weight="bold" transform="rotate(0.03 583.4 348.2)">550</text>
<text x="614.17" y="348.2" font-size="8.2" text-anchor="middle" font-weight="bold" transform="rotate(0.03 614.17 348.2)">600</text>
<text x="644.93" y="348.2" font-size="8.2" text-anchor="middle" font-weight="bold" transform="rotate(0.03 644.93 348.2)">650</text>
<text x="675.7" y="348.2" font-size="8.2" text-anchor="middle" font-weight="bold" transform="rotate(0.03 675.7 348.2)">700</text>
<text x="486.1" y="337.26" font-size="8.2" text-anchor="end" font-weight="bold" transform="rotate(0.03 486.1 337.26)">0.0</text>
<text x="486.1" y="314.94" font-size="8.2" text-anchor="end" font-weight="bold" transform="rotate(0.03 486.1 314.94)">0.2</text>
<text x="486.1" y="292.62" font-size="8.2" text-anchor="end" font-weight="bold" transform="rotate(0.03 486.1 292.62)">0.4</text>
<text x="486.1" y="270.3" font-size="8.2" text-anchor="end" font-weight="bold" transform="rotate(0.03 486.1 270.3)">0.6</text>
<text x="486.1" y="247.98" font-size="8.2" text-anchor="end" font-weight="bold" transform="rotate(0.03 486.1 247.98)">0.8</text>
<text x="486.1" y="225.66" font-size="8.2" text-anchor="end" font-weight="bold" transform="rotate(0.03 486.1 225.66)">1.0</text>
<text x="486.1" y="203.34" font-size="8.2" text-anchor="end" font-weight="bold" transform="rotate(0.03 486.1 203.34)">1.2</text>
<text x="583.4" y="359.1" font-size="8.5" text-anchor="middle" font-weight="bold" transform="rotate(0.03 583.4 359.1)">Wavelength (nm)</text>
<text x="0" y="0" font-size="8.3" text-anchor="middle" font-weight="bold" transform="translate(470.2,263.3) rotate(-89.97)">Transmittance (a.u.)</text>
<polyline points="491.1,334.8 573.2,334.7 573.9,334.2 574.8,332.6 575.4,329.8 576.0,324.8 577.6,309.3 579.7,284.6 581.2,273.0 582.5,266.4 583.7,261.8 585.9,255.1 587.4,250.5 588.6,247.4 589.6,245.5 591.1,243.0 592.9,240.5 594.5,238.8 596.6,237.1 600.0,235.4 602.8,234.5 605.6,234.2 611.4,233.9 627.1,233.4 675.7,232.5" fill="none" stroke="#000" stroke-width="1.5" stroke-linejoin="round" stroke-dasharray="1.8,3.9" clip-path="url(#c21)"/>
<polyline points="491.1,333.5 519.1,333.9 563.1,334.2 566.2,334.2 566.8,333.9 567.7,332.4 568.6,330.0 572.0,318.0 576.0,305.7 578.8,296.3 580.6,288.9 584.6,269.1 585.9,264.2 586.8,261.4 588.9,256.6 590.8,253.3 592.3,250.9 597.6,244.0 601.2,238.9 602.5,237.5 603.7,236.7 605.9,236.1 611.4,235.0 613.2,234.4 618.2,232.4 620.9,231.6 642.2,230.5 646.8,230.5 648.9,231.2 652.6,233.1 660.9,236.6 664.9,238.6 667.4,240.2 669.9,242.0 672.6,244.3 675.7,247.2" fill="none" stroke="#1a1aff" stroke-width="1.5" stroke-linejoin="round" clip-path="url(#c21)"/>
<polyline points="491.1,333.7 518.8,334.1 552.9,334.4 568.9,334.8 570.8,334.8 571.1,334.6 571.4,334.2 572.0,332.7 573.2,327.9 574.5,321.3 581.9,278.1 583.4,271.2 585.6,263.7 587.1,259.3 588.9,254.9 590.5,251.8 595.1,243.4 598.8,234.9 600.0,232.3 602.5,228.1 603.7,226.4 604.6,225.6 607.1,224.5 608.9,224.0 610.5,223.8 616.0,223.9 617.6,224.0 617.9,224.2 618.2,224.0 618.5,224.2 618.8,224.0 619.1,224.5 619.4,224.2 619.7,224.2 620.0,224.4 620.6,224.3 620.9,224.4 621.2,224.7 622.2,224.6 622.5,225.0 622.8,225.1 623.1,225.1 623.4,225.0 623.7,225.7 624.0,225.8 624.3,225.5 624.6,226.0 625.6,225.7 625.9,226.3 626.2,225.7 626.5,226.6 626.8,225.8 627.1,226.5 627.4,226.4 627.7,225.7 628.0,226.0 628.3,226.1 628.9,225.4 629.2,225.6 629.6,225.5 629.9,225.0 630.2,225.7 630.5,225.7 630.8,225.8 631.1,225.1 631.7,225.5 632.0,226.4 632.3,226.7 632.6,226.6 632.9,227.5 633.2,227.2 633.5,227.6 633.9,228.7 634.2,228.6 634.5,229.0 634.8,228.3 635.1,228.2 635.4,230.2 635.7,230.5 636.0,232.3 636.3,231.3 636.6,231.8 636.9,233.0 637.2,232.2 637.5,234.2 637.9,233.8 638.2,234.0 638.5,235.3 638.8,234.3 639.1,234.6 639.4,236.6 639.7,237.0 640.0,236.1 640.6,238.1 640.9,237.8 641.5,238.5 641.9,238.2 642.2,238.9 642.5,238.3 643.1,239.8 643.7,240.1 644.0,240.9 644.3,242.6 644.6,241.6 644.9,242.5 645.2,241.8 645.5,243.2 645.9,243.3 646.2,243.9 646.5,243.4 646.8,244.8 647.1,245.5 647.4,245.5 647.7,246.5 648.0,246.5 648.3,247.1 648.6,247.3 648.9,246.6 649.2,248.7 649.5,248.8 649.9,249.4 650.2,249.3 650.5,250.9 651.4,251.1 652.3,253.2 652.6,252.7 652.9,252.4 653.2,253.6 653.5,254.0 653.9,254.1 654.2,255.4 654.5,255.3 654.8,255.5 655.1,255.4 655.4,255.9 655.7,256.9 656.0,255.6 656.3,255.5 656.6,257.0 656.9,256.8 657.2,257.1 657.5,257.0 657.9,258.7 658.2,256.9 658.5,258.5 658.8,257.5 659.1,258.5 659.4,259.0 659.7,259.1 660.0,258.6 660.3,259.9 660.6,259.8 660.9,260.0 661.2,261.1 661.5,259.2 662.2,260.5 662.5,259.8 662.8,261.4 663.1,261.0 663.4,260.0 663.7,260.7 664.0,263.0 664.3,263.9 664.9,261.3 665.2,262.5 665.5,262.6 665.9,262.2 666.2,263.4 666.5,262.8 666.8,262.6 667.4,263.2 667.7,264.1 668.0,263.5 668.3,264.3 668.9,262.6 669.2,265.0 669.5,266.1 669.9,265.1 670.5,264.5 670.8,264.6 671.1,266.0 671.4,266.2 671.7,265.0 672.0,266.7 672.3,265.4 672.6,266.5 672.9,266.0 673.9,266.4 674.2,267.8 674.5,267.0 674.8,267.4 675.1,267.3 675.4,266.9 675.7,268.0" fill="none" stroke="#ff1a1a" stroke-width="1.5" stroke-linejoin="round" clip-path="url(#c21)"/>
<rect x="491.1" y="190.1" width="184.6" height="146.4" fill="none" stroke="#000" stroke-width="1.6"/>
<line x1="495.1" y1="199.1" x2="513.1" y2="199.1" stroke="#ff1a1a" stroke-width="1.6"/>
<text x="515.8" y="201.87" font-size="7.7" text-anchor="start" font-weight="bold" transform="rotate(0.03 515.8 201.87)">Reconstructed-Exp, MSE = 1.10×10<tspan dy="-2.6" font-size="5.3">-2</tspan></text>
<line x1="495.1" y1="209.1" x2="513.1" y2="209.1" stroke="#1a1aff" stroke-width="1.6"/>
<text x="515.8" y="211.87" font-size="7.7" text-anchor="start" font-weight="bold" transform="rotate(0.03 515.8 211.87)">Reconstructed-Cal, MSE = 1.61×10<tspan dy="-2.6" font-size="5.3">-3</tspan></text>
<line x1="495.1" y1="219.1" x2="513.1" y2="219.1" stroke="#000" stroke-width="1.5" stroke-dasharray="2.8,3.0"/>
<text x="515.8" y="221.87" font-size="7.7" text-anchor="start" font-weight="bold" transform="rotate(0.03 515.8 221.87)">Reference</text>
<text x="457.7" y="189.4" font-size="10.5" text-anchor="start" font-weight="bold" transform="rotate(0.03 457.7 189.4)">(f)</text>
<clipPath id="c02"><rect x="33.1" y="373" width="184.4" height="146.3"/></clipPath>
<line x1="33.1" y1="519.3" x2="33.1" y2="522.3" stroke="#000" stroke-width="1.3"/>
<line x1="74.08" y1="519.3" x2="74.08" y2="522.3" stroke="#000" stroke-width="1.3"/>
<line x1="115.06" y1="519.3" x2="115.06" y2="522.3" stroke="#000" stroke-width="1.3"/>
<line x1="156.03" y1="519.3" x2="156.03" y2="522.3" stroke="#000" stroke-width="1.3"/>
<line x1="197.01" y1="519.3" x2="197.01" y2="522.3" stroke="#000" stroke-width="1.3"/>
<line x1="53.59" y1="519.3" x2="53.59" y2="521.1" stroke="#000" stroke-width="1.2"/>
<line x1="94.57" y1="519.3" x2="94.57" y2="521.1" stroke="#000" stroke-width="1.2"/>
<line x1="135.54" y1="519.3" x2="135.54" y2="521.1" stroke="#000" stroke-width="1.2"/>
<line x1="176.52" y1="519.3" x2="176.52" y2="521.1" stroke="#000" stroke-width="1.2"/>
<line x1="217.5" y1="519.3" x2="217.5" y2="521.1" stroke="#000" stroke-width="1.2"/>
<line x1="33.1" y1="517" x2="30.1" y2="517" stroke="#000" stroke-width="1.3"/>
<line x1="33.1" y1="490.9" x2="30.1" y2="490.9" stroke="#000" stroke-width="1.3"/>
<line x1="33.1" y1="464.8" x2="30.1" y2="464.8" stroke="#000" stroke-width="1.3"/>
<line x1="33.1" y1="438.7" x2="30.1" y2="438.7" stroke="#000" stroke-width="1.3"/>
<line x1="33.1" y1="412.6" x2="30.1" y2="412.6" stroke="#000" stroke-width="1.3"/>
<line x1="33.1" y1="386.5" x2="30.1" y2="386.5" stroke="#000" stroke-width="1.3"/>
<line x1="33.1" y1="503.95" x2="31.3" y2="503.95" stroke="#000" stroke-width="1.2"/>
<line x1="33.1" y1="477.85" x2="31.3" y2="477.85" stroke="#000" stroke-width="1.2"/>
<line x1="33.1" y1="451.75" x2="31.3" y2="451.75" stroke="#000" stroke-width="1.2"/>
<line x1="33.1" y1="425.65" x2="31.3" y2="425.65" stroke="#000" stroke-width="1.2"/>
<line x1="33.1" y1="399.55" x2="31.3" y2="399.55" stroke="#000" stroke-width="1.2"/>
<line x1="33.1" y1="373.45" x2="31.3" y2="373.45" stroke="#000" stroke-width="1.2"/>
<text x="33.1" y="531" font-size="8.2" text-anchor="middle" font-weight="bold" transform="rotate(0.03 33.1 531)">700</text>
<text x="74.08" y="531" font-size="8.2" text-anchor="middle" font-weight="bold" transform="rotate(0.03 74.08 531)">900</text>
<text x="115.06" y="531" font-size="8.2" text-anchor="middle" font-weight="bold" transform="rotate(0.03 115.06 531)">1100</text>
<text x="156.03" y="531" font-size="8.2" text-anchor="middle" font-weight="bold" transform="rotate(0.03 156.03 531)">1300</text>
<text x="197.01" y="531" font-size="8.2" text-anchor="middle" font-weight="bold" transform="rotate(0.03 197.01 531)">1500</text>
<text x="28.1" y="519.46" font-size="8.2" text-anchor="end" font-weight="bold" transform="rotate(0.03 28.1 519.46)">0.0</text>
<text x="28.1" y="493.36" font-size="8.2" text-anchor="end" font-weight="bold" transform="rotate(0.03 28.1 493.36)">0.2</text>
<text x="28.1" y="467.26" font-size="8.2" text-anchor="end" font-weight="bold" transform="rotate(0.03 28.1 467.26)">0.4</text>
<text x="28.1" y="441.16" font-size="8.2" text-anchor="end" font-weight="bold" transform="rotate(0.03 28.1 441.16)">0.6</text>
<text x="28.1" y="415.06" font-size="8.2" text-anchor="end" font-weight="bold" transform="rotate(0.03 28.1 415.06)">0.8</text>
<text x="28.1" y="388.96" font-size="8.2" text-anchor="end" font-weight="bold" transform="rotate(0.03 28.1 388.96)">1.0</text>
<text x="125.3" y="541.9" font-size="8.5" text-anchor="middle" font-weight="bold" transform="rotate(0.03 125.3 541.9)">Wavelength (nm)</text>
<text x="0" y="0" font-size="8.3" text-anchor="middle" font-weight="bold" transform="translate(12.2,446.15) rotate(-89.97)">Transmittance (a.u.)</text>
<polyline points="33.1,516.0 95.0,516.0 98.0,516.1 105.2,516.9 108.1,517.0 108.9,516.9 109.9,516.4 110.8,515.9 111.8,514.9 113.2,513.2 114.6,511.1 115.5,509.7 116.1,508.3 116.9,505.8 117.7,502.5 119.2,494.8 119.8,489.2 120.4,480.9 123.7,426.8 124.7,419.1 125.1,417.2 125.3,416.7 125.5,416.5 125.7,416.7 125.9,417.3 126.3,419.2 128.2,430.7 130.8,449.2 132.9,461.5 133.9,466.9 134.7,470.1 136.8,475.4 138.0,477.6 138.6,478.3 139.2,478.5 139.4,478.4 139.8,477.6 140.7,474.2 143.3,455.7 146.0,430.9 147.4,414.7 148.0,409.0 148.7,406.2 149.3,404.5 149.7,403.9 149.9,403.9 150.1,404.0 150.5,405.0 151.9,412.6 152.6,416.9 154.2,431.4 155.8,443.4 156.6,447.9 157.1,449.0 157.3,449.1 157.5,449.1 157.9,448.6 158.7,446.7 160.7,440.0 161.8,436.0 164.0,426.0 166.5,412.0 167.5,407.5 169.1,403.0 170.8,399.6 172.2,397.5 174.1,396.0 175.1,395.4 176.1,395.0 176.9,395.0 177.8,395.3 178.6,395.8 179.6,396.8 181.8,399.9 183.1,403.0 185.5,411.7 186.6,414.7 189.0,420.5 190.2,423.1 191.5,424.9 192.1,425.5 192.5,425.6 193.1,425.6 193.9,424.9 194.8,423.8 195.6,422.2 199.5,413.3 202.7,403.7 204.0,400.6 206.2,396.3 206.8,395.5 207.3,395.1 207.7,395.0 208.3,395.1 209.7,395.7 211.4,397.0 213.2,399.0 214.0,400.3 215.0,402.3 217.5,408.7" fill="none" stroke="#000" stroke-width="1.5" stroke-linejoin="round" stroke-dasharray="1.8,3.9" clip-path="url(#c02)"/>
<polyline points="33.1,516.6 82.9,516.6 84.9,516.2 87.6,515.4 88.6,514.7 91.1,512.7 92.9,511.7 94.0,511.5 95.0,511.9 96.8,513.2 101.1,517.9 102.1,518.8 102.8,519.0 105.4,518.8 107.1,518.5 107.7,518.1 108.9,516.4 111.8,510.8 114.4,506.6 115.5,504.7 116.9,501.2 117.7,498.1 118.9,490.4 120.4,478.9 122.6,453.6 124.3,437.0 124.9,432.8 125.5,430.1 126.1,428.2 126.5,427.7 126.7,427.9 127.3,429.7 130.8,449.1 131.4,451.9 131.9,453.1 132.7,454.6 133.5,455.9 134.1,456.6 134.9,457.0 135.7,456.6 136.6,455.7 138.6,452.8 140.9,448.4 146.4,435.9 148.7,432.2 149.3,431.5 149.9,431.3 150.3,431.5 150.9,432.7 153.0,439.4 155.0,448.8 155.6,451.2 157.1,454.8 157.7,455.6 158.1,455.6 158.7,454.5 159.5,451.6 161.2,444.8 163.0,435.4 163.6,433.3 164.4,431.9 167.5,428.7 168.3,427.6 169.1,426.1 169.8,424.2 172.0,414.2 174.5,399.0 176.3,390.1 177.5,385.1 178.2,383.5 178.6,383.0 179.0,383.0 179.6,384.0 180.8,387.9 182.1,392.9 184.3,406.6 185.9,414.2 187.6,420.2 188.8,423.7 189.4,424.8 190.2,424.8 191.3,424.5 192.3,424.0 193.7,423.0 194.6,422.2 195.6,420.3 197.0,416.9 199.5,410.2 205.2,390.1 207.1,386.3 207.7,385.5 208.3,385.2 208.7,385.3 209.1,385.7 210.1,387.5 211.8,391.6 212.6,394.6 215.2,408.2 217.5,423.0" fill="none" stroke="#ff1a1a" stroke-width="1.7" stroke-linejoin="round" clip-path="url(#c02)"/>
<rect x="33.1" y="373" width="184.4" height="146.3" fill="none" stroke="#000" stroke-width="1.6"/>
<line x1="37.4" y1="382" x2="52.9" y2="382" stroke="#ff1a1a" stroke-width="1.75"/>
<text x="56" y="384.77" font-size="7.7" text-anchor="start" font-weight="bold" transform="rotate(0.03 56 384.77)">Reconstructed, MSE = 5.31×10<tspan dy="-2.6" font-size="5.3">-3</tspan></text>
<line x1="37.4" y1="392.4" x2="52.9" y2="392.4" stroke="#000" stroke-width="1.5" stroke-dasharray="2.8,3.9"/>
<text x="56" y="395.17" font-size="7.7" text-anchor="start" font-weight="bold" transform="rotate(0.03 56 395.17)">Reference</text>
<text x="0.4" y="372.6" font-size="10.5" text-anchor="start" font-weight="bold" transform="rotate(0.03 0.4 372.6)">(g)</text>
<clipPath id="c12"><rect x="262.1" y="373" width="184.4" height="146.3"/></clipPath>
<line x1="262.1" y1="519.3" x2="262.1" y2="522.3" stroke="#000" stroke-width="1.3"/>
<line x1="303.08" y1="519.3" x2="303.08" y2="522.3" stroke="#000" stroke-width="1.3"/>
<line x1="344.06" y1="519.3" x2="344.06" y2="522.3" stroke="#000" stroke-width="1.3"/>
<line x1="385.03" y1="519.3" x2="385.03" y2="522.3" stroke="#000" stroke-width="1.3"/>
<line x1="426.01" y1="519.3" x2="426.01" y2="522.3" stroke="#000" stroke-width="1.3"/>
<line x1="282.59" y1="519.3" x2="282.59" y2="521.1" stroke="#000" stroke-width="1.2"/>
<line x1="323.57" y1="519.3" x2="323.57" y2="521.1" stroke="#000" stroke-width="1.2"/>
<line x1="364.54" y1="519.3" x2="364.54" y2="521.1" stroke="#000" stroke-width="1.2"/>
<line x1="405.52" y1="519.3" x2="405.52" y2="521.1" stroke="#000" stroke-width="1.2"/>
<line x1="446.5" y1="519.3" x2="446.5" y2="521.1" stroke="#000" stroke-width="1.2"/>
<line x1="262.1" y1="506" x2="259.1" y2="506" stroke="#000" stroke-width="1.3"/>
<line x1="262.1" y1="479.4" x2="259.1" y2="479.4" stroke="#000" stroke-width="1.3"/>
<line x1="262.1" y1="452.8" x2="259.1" y2="452.8" stroke="#000" stroke-width="1.3"/>
<line x1="262.1" y1="426.2" x2="259.1" y2="426.2" stroke="#000" stroke-width="1.3"/>
<line x1="262.1" y1="399.6" x2="259.1" y2="399.6" stroke="#000" stroke-width="1.3"/>
<line x1="262.1" y1="373" x2="259.1" y2="373" stroke="#000" stroke-width="1.3"/>
<line x1="262.1" y1="492.7" x2="260.3" y2="492.7" stroke="#000" stroke-width="1.2"/>
<line x1="262.1" y1="466.1" x2="260.3" y2="466.1" stroke="#000" stroke-width="1.2"/>
<line x1="262.1" y1="439.5" x2="260.3" y2="439.5" stroke="#000" stroke-width="1.2"/>
<line x1="262.1" y1="412.9" x2="260.3" y2="412.9" stroke="#000" stroke-width="1.2"/>
<line x1="262.1" y1="386.3" x2="260.3" y2="386.3" stroke="#000" stroke-width="1.2"/>
<line x1="262.1" y1="519.3" x2="260.3" y2="519.3" stroke="#000" stroke-width="1.2"/>
<text x="262.1" y="531" font-size="8.2" text-anchor="middle" font-weight="bold" transform="rotate(0.03 262.1 531)">700</text>
<text x="303.08" y="531" font-size="8.2" text-anchor="middle" font-weight="bold" transform="rotate(0.03 303.08 531)">900</text>
<text x="344.06" y="531" font-size="8.2" text-anchor="middle" font-weight="bold" transform="rotate(0.03 344.06 531)">1100</text>
<text x="385.03" y="531" font-size="8.2" text-anchor="middle" font-weight="bold" transform="rotate(0.03 385.03 531)">1300</text>
<text x="426.01" y="531" font-size="8.2" text-anchor="middle" font-weight="bold" transform="rotate(0.03 426.01 531)">1500</text>
<text x="257.1" y="508.46" font-size="8.2" text-anchor="end" font-weight="bold" transform="rotate(0.03 257.1 508.46)">0.0</text>
<text x="257.1" y="481.86" font-size="8.2" text-anchor="end" font-weight="bold" transform="rotate(0.03 257.1 481.86)">0.1</text>
<text x="257.1" y="455.26" font-size="8.2" text-anchor="end" font-weight="bold" transform="rotate(0.03 257.1 455.26)">0.2</text>
<text x="257.1" y="428.66" font-size="8.2" text-anchor="end" font-weight="bold" transform="rotate(0.03 257.1 428.66)">0.3</text>
<text x="257.1" y="402.06" font-size="8.2" text-anchor="end" font-weight="bold" transform="rotate(0.03 257.1 402.06)">0.4</text>
<text x="257.1" y="375.46" font-size="8.2" text-anchor="end" font-weight="bold" transform="rotate(0.03 257.1 375.46)">0.5</text>
<text x="354.3" y="541.9" font-size="8.5" text-anchor="middle" font-weight="bold" transform="rotate(0.03 354.3 541.9)">Wavelength (nm)</text>
<text x="0" y="0" font-size="8.3" text-anchor="middle" font-weight="bold" transform="translate(241.2,446.15) rotate(-89.97)">Transmittance (a.u.)</text>
<polyline points="262.1,504.7 300.2,504.4 303.1,504.2 306.2,503.6 315.8,501.0 318.9,499.9 322.5,498.4 329.5,495.2 334.4,492.8 340.0,489.8 345.3,486.6 352.5,481.7 356.1,478.9 359.0,476.5 365.8,470.3 376.2,459.9 386.5,449.0 421.1,409.2 430.9,398.4 434.2,395.0 437.1,392.5 440.8,389.8 442.0,389.1 443.6,388.5 446.5,387.6" fill="none" stroke="#000" stroke-width="1.5" stroke-linejoin="round" stroke-dasharray="1.8,3.9" clip-path="url(#c12)"/>
<polyline points="262.1,507.1 262.3,507.3 262.9,506.3 263.3,506.9 263.5,507.0 263.9,506.0 264.4,507.2 264.6,507.1 264.8,506.0 265.2,507.3 265.4,506.7 265.6,507.1 265.8,506.9 266.2,506.9 266.4,506.4 266.8,506.8 267.2,506.3 267.4,507.2 267.6,506.7 267.8,507.0 268.0,506.6 268.2,507.1 268.5,506.6 268.9,506.7 269.1,507.0 269.3,506.7 269.7,507.1 269.9,506.5 270.1,507.0 270.3,506.1 270.5,506.3 270.7,507.3 270.9,506.4 271.1,507.0 271.3,506.5 271.5,506.5 271.7,507.3 271.9,506.6 272.1,506.6 272.3,506.2 272.5,507.0 272.8,506.2 273.0,507.0 273.2,506.7 273.4,506.9 273.6,506.0 273.8,506.3 274.0,505.6 274.2,506.3 274.6,506.2 274.8,506.8 275.0,506.6 275.2,506.0 275.4,506.7 275.6,506.5 275.8,506.6 276.0,506.3 276.2,506.7 276.6,506.5 276.9,506.6 277.1,507.0 277.3,506.3 277.5,507.2 277.9,507.2 278.1,506.3 278.5,507.1 278.7,507.2 278.9,506.6 279.1,507.2 279.3,507.3 279.5,506.6 279.7,507.3 280.1,506.9 280.3,507.1 280.5,507.0 280.7,506.4 280.9,507.2 281.4,507.8 281.6,507.1 281.8,507.2 282.0,507.0 282.2,507.3 282.6,507.4 283.0,507.1 283.2,507.4 283.4,507.2 283.6,506.5 284.0,507.9 284.2,506.6 284.6,507.7 284.8,506.9 285.3,507.6 285.7,507.7 286.1,506.9 286.3,507.5 286.7,506.6 286.9,507.8 287.1,507.2 287.5,507.7 287.7,507.7 288.1,507.1 288.3,507.5 288.7,507.0 288.9,507.1 289.1,506.9 289.4,507.0 289.6,507.0 289.8,506.5 290.2,507.1 290.4,506.9 290.6,507.5 291.0,506.8 291.2,506.8 291.4,506.5 291.8,507.6 292.0,506.2 292.2,506.6 292.4,507.4 292.6,506.4 293.0,507.6 293.2,507.1 293.4,507.1 293.7,506.2 293.9,507.1 294.1,506.9 294.3,506.9 294.7,507.1 295.1,506.2 295.3,506.4 295.5,507.0 295.7,507.1 295.9,506.5 296.1,506.8 296.3,506.8 296.5,507.2 296.7,505.7 297.1,506.8 297.3,506.0 297.5,505.8 297.8,507.3 298.0,506.5 298.2,506.4 298.4,506.0 298.6,506.3 299.0,506.2 299.2,505.4 299.4,505.2 299.6,506.3 299.8,506.4 300.0,504.9 300.2,506.4 301.0,505.4 301.4,506.1 301.6,505.5 301.8,505.6 302.1,504.9 302.5,506.1 302.7,505.9 302.9,504.9 303.3,506.2 303.9,504.7 304.1,505.6 304.3,504.8 304.5,504.7 304.7,505.3 304.9,505.0 305.1,504.2 305.3,504.1 305.7,504.6 305.9,504.2 306.2,504.6 306.4,504.6 306.6,504.8 306.8,504.4 307.0,504.4 307.2,503.2 307.4,504.3 307.6,503.6 307.8,503.6 308.0,504.1 308.2,503.5 308.4,504.8 308.6,503.8 308.8,503.4 309.0,504.7 309.4,503.1 309.8,503.9 310.0,503.5 310.2,503.5 310.5,502.9 311.1,503.3 311.5,502.4 311.7,502.7 311.9,502.5 312.3,503.1 312.7,502.2 313.3,502.9 313.5,502.2 313.7,502.3 314.1,502.1 314.8,501.4 315.2,501.2 315.6,501.7 316.0,501.2 316.2,501.5 316.6,500.8 317.0,501.8 317.2,500.6 317.4,501.0 317.6,500.6 317.8,501.4 318.0,500.1 318.4,500.7 318.6,500.7 318.9,500.5 319.3,500.5 319.5,500.8 319.7,499.7 319.9,500.2 320.3,500.0 320.5,500.9 320.7,499.7 320.9,500.0 321.3,499.7 321.5,500.0 321.7,499.2 321.9,499.8 322.1,499.8 322.3,499.7 322.7,498.9 323.2,499.6 323.4,498.5 323.6,499.3 323.8,498.3 324.2,498.9 324.4,498.8 324.8,498.0 325.0,498.4 325.4,497.3 325.6,498.1 325.8,498.4 326.0,498.3 326.2,498.3 326.4,498.0 326.6,497.9 326.8,498.1 327.0,497.2 327.3,498.4 327.5,497.8 327.7,496.3 327.9,496.6 328.1,496.7 328.3,496.7 328.5,496.0 329.1,496.9 329.3,496.4 329.5,496.5 329.9,496.3 330.1,495.9 330.3,495.9 330.5,495.3 330.7,496.0 331.1,494.5 331.4,495.1 331.6,494.5 332.0,494.2 332.2,494.3 332.4,495.0 332.6,494.4 332.8,494.3 333.0,494.7 333.2,494.1 333.6,494.3 333.8,493.4 334.4,493.4 335.2,492.5 335.5,492.5 335.9,491.8 336.1,491.7 336.3,491.9 336.5,491.8 336.7,491.2 336.9,491.3 337.1,491.1 337.3,491.9 337.5,491.8 337.7,490.4 337.9,490.3 338.1,489.7 338.5,489.8 338.7,489.8 338.9,490.2 339.1,489.1 339.3,489.5 339.5,488.9 340.0,488.7 340.2,488.3 340.4,488.7 340.6,488.5 340.8,488.5 341.0,488.2 341.2,487.2 341.4,487.9 341.6,487.1 341.8,487.1 342.2,486.8 342.4,487.4 342.8,486.0 343.0,486.8 343.2,486.4 343.4,486.5 343.6,485.9 343.9,486.3 344.1,485.1 344.5,486.0 344.7,484.5 345.1,484.7 345.3,484.5 345.5,484.7 345.9,484.0 346.3,483.6 346.7,483.8 347.3,482.5 347.5,483.1 347.7,483.0 347.9,482.1 348.2,482.2 348.4,482.0 348.6,482.7 348.8,482.1 349.0,482.0 349.2,481.5 349.4,482.1 349.6,480.8 349.8,481.0 350.0,480.8 350.2,481.3 350.6,479.9 350.8,480.9 351.0,480.0 351.2,479.7 351.4,480.1 351.6,479.3 351.8,479.6 352.0,478.8 352.5,478.9 352.7,478.0 352.9,478.3 353.1,477.9 353.3,478.7 353.7,477.6 353.9,477.4 354.1,477.6 354.3,477.1 354.5,477.7 354.7,477.0 354.9,477.4 355.1,476.6 355.3,476.8 355.5,476.7 355.9,475.4 356.1,476.3 356.3,476.0 356.6,475.2 356.8,475.6 357.0,474.6 357.2,475.0 357.4,474.9 357.6,474.7 357.8,473.9 358.0,474.2 358.4,474.1 358.6,474.6 358.8,474.2 359.0,473.1 359.4,473.2 359.6,473.0 359.8,473.3 360.0,472.8 360.2,473.1 360.4,472.4 360.7,472.7 361.1,471.9 361.3,472.1 361.5,471.5 361.9,471.3 362.1,470.8 362.3,471.7 362.5,471.6 362.7,470.6 363.1,469.7 363.3,470.0 363.5,469.9 363.7,470.4 363.9,469.6 364.1,469.4 364.3,470.0 365.0,468.9 365.2,470.1 365.4,468.7 365.6,468.5 365.8,468.5 366.2,467.9 366.4,468.3 366.6,467.6 367.0,467.8 367.4,466.5 367.6,467.5 368.0,467.2 368.2,465.6 368.4,466.3 368.6,466.0 368.8,466.2 369.1,466.0 369.3,466.3 369.5,465.2 369.7,465.0 369.9,465.7 371.1,463.3 371.3,463.2 371.5,462.9 371.7,463.7 372.1,462.4 372.3,462.6 372.5,462.5 372.7,463.1 372.9,462.9 373.1,461.6 373.6,461.7 373.8,461.5 374.0,461.8 374.2,460.8 374.6,459.9 374.8,460.3 375.0,460.2 375.2,460.4 375.4,459.3 375.6,458.9 375.8,459.6 376.0,459.0 376.2,458.9 376.4,459.0 376.6,459.5 377.0,457.9 377.2,458.5 377.5,458.0 377.7,458.8 377.9,456.8 378.1,456.9 378.7,456.7 378.9,456.3 379.7,455.3 379.9,454.6 380.1,455.5 380.3,454.6 380.7,454.8 380.9,455.1 381.1,453.6 381.3,454.1 381.8,453.1 382.0,453.5 382.2,452.8 382.4,452.6 382.8,451.8 383.0,452.3 383.2,451.4 383.4,451.6 383.6,451.3 383.8,451.2 384.0,450.6 384.2,451.2 384.6,449.8 384.8,450.1 385.0,449.0 385.2,449.9 385.4,449.3 385.6,449.3 386.1,449.2 386.5,448.3 386.7,448.4 387.1,447.0 387.3,448.0 387.5,446.8 387.7,446.9 387.9,446.6 388.1,445.5 388.5,445.9 388.7,445.7 388.9,446.4 389.1,445.0 389.3,445.4 389.5,444.8 389.7,444.6 390.2,443.4 390.4,443.6 390.6,443.2 390.8,443.6 391.2,442.8 391.4,443.4 391.6,441.8 391.8,442.7 392.0,442.6 392.2,441.3 392.4,440.8 392.6,441.7 392.8,441.5 393.0,439.7 393.4,441.3 393.8,439.3 394.0,439.6 394.5,438.9 394.7,438.9 395.1,439.3 395.3,438.3 395.5,438.7 395.9,437.1 396.1,437.3 396.3,437.3 396.9,436.2 397.1,436.9 397.5,435.2 397.9,435.8 398.1,435.5 398.4,435.8 398.8,433.9 399.0,434.4 399.2,434.5 399.6,433.7 400.2,433.3 400.6,431.9 400.8,432.5 401.0,432.3 401.2,431.4 401.4,432.2 402.0,430.9 402.4,430.8 402.7,430.1 402.9,430.5 403.3,430.4 403.5,429.0 403.7,429.8 403.9,428.7 404.3,428.1 404.5,428.3 404.7,428.2 404.9,427.7 405.3,427.8 405.5,426.6 405.7,427.2 405.9,425.9 406.3,426.3 406.8,425.2 407.0,426.0 407.4,425.4 407.8,424.4 408.2,424.4 408.4,424.1 408.6,423.2 408.8,423.0 409.2,423.5 409.4,422.5 409.8,422.2 410.0,421.4 410.2,421.5 410.4,422.0 410.6,421.8 410.8,420.6 411.1,420.9 411.3,420.4 411.7,420.6 412.1,419.2 412.5,419.8 412.7,419.2 412.9,419.1 413.5,417.4 413.7,417.9 413.9,417.9 414.1,417.5 414.5,417.3 414.9,416.7 415.2,416.9 415.4,416.0 415.8,416.2 416.0,415.4 416.2,415.5 416.4,414.4 416.6,414.7 416.8,414.6 417.0,414.7 417.4,413.7 417.6,414.1 417.8,413.3 418.0,414.2 418.2,413.0 418.4,412.6 418.8,412.5 419.0,411.8 419.2,412.4 419.5,412.2 419.9,410.9 420.3,411.0 420.7,410.3 421.1,411.2 421.3,410.2 421.5,410.2 421.7,409.6 421.9,409.6 422.3,408.5 422.7,408.3 422.9,407.4 423.1,408.0 423.3,407.7 423.6,406.8 423.8,407.6 424.0,407.5 424.2,406.1 424.4,406.3 425.0,405.4 425.2,405.7 425.4,405.3 425.6,405.5 425.8,404.8 426.0,404.5 426.2,404.5 426.6,402.7 426.8,404.1 427.0,403.1 427.4,402.5 427.7,402.9 427.9,401.9 428.3,401.9 428.5,401.7 429.1,400.4 429.3,399.6 429.5,400.4 429.7,399.7 429.9,399.9 430.1,399.1 430.7,399.2 431.3,397.2 431.5,397.2 431.7,397.8 432.2,396.7 432.6,396.2 432.8,395.7 433.0,395.6 433.4,396.0 433.6,395.1 433.8,395.4 434.2,394.1 434.4,394.6 434.6,393.9 434.8,393.7 435.0,392.6 435.4,393.7 435.6,392.6 435.8,392.4 436.1,392.4 436.3,392.3 436.5,391.7 436.7,391.5 436.9,391.4 437.1,391.8 437.3,391.4 437.5,391.7 437.7,391.6 437.9,391.0 438.1,391.1 438.3,390.7 438.5,389.4 439.1,390.8 439.3,390.1 439.7,390.3 439.9,389.0 440.1,389.4 440.4,388.9 440.6,387.7 440.8,388.7 441.2,388.5 441.6,388.8 442.0,387.9 442.4,388.8 442.8,388.5 443.0,388.1 443.4,387.8 443.6,387.5 443.8,388.0 444.0,387.6 444.2,387.7 444.5,387.5 444.7,388.5 444.9,387.3 445.1,388.4 445.3,388.2 445.5,387.4 445.7,387.8 445.9,387.0 446.3,388.1 446.5,387.6" fill="none" stroke="#ff1a1a" stroke-width="1.5" stroke-linejoin="round" clip-path="url(#c12)"/>
<rect x="262.1" y="373" width="184.4" height="146.3" fill="none" stroke="#000" stroke-width="1.6"/>
<line x1="266.4" y1="382" x2="281.9" y2="382" stroke="#ff1a1a" stroke-width="1.75"/>
<text x="285" y="384.77" font-size="7.7" text-anchor="start" font-weight="bold" transform="rotate(0.03 285 384.77)">Reconstructed, MSE = 7.21×10<tspan dy="-2.6" font-size="5.3">-5</tspan></text>
<line x1="266.4" y1="392.4" x2="281.9" y2="392.4" stroke="#000" stroke-width="1.5" stroke-dasharray="2.8,3.9"/>
<text x="285" y="395.17" font-size="7.7" text-anchor="start" font-weight="bold" transform="rotate(0.03 285 395.17)">Reference</text>
<text x="227.5" y="372.6" font-size="10.5" text-anchor="start" font-weight="bold" transform="rotate(0.03 227.5 372.6)">(h)</text>
<clipPath id="c22"><rect x="491.1" y="373" width="184.6" height="146.3"/></clipPath>
<line x1="491.1" y1="519.3" x2="491.1" y2="522.3" stroke="#000" stroke-width="1.3"/>
<line x1="532.12" y1="519.3" x2="532.12" y2="522.3" stroke="#000" stroke-width="1.3"/>
<line x1="573.14" y1="519.3" x2="573.14" y2="522.3" stroke="#000" stroke-width="1.3"/>
<line x1="614.17" y1="519.3" x2="614.17" y2="522.3" stroke="#000" stroke-width="1.3"/>
<line x1="655.19" y1="519.3" x2="655.19" y2="522.3" stroke="#000" stroke-width="1.3"/>
<line x1="511.61" y1="519.3" x2="511.61" y2="521.1" stroke="#000" stroke-width="1.2"/>
<line x1="552.63" y1="519.3" x2="552.63" y2="521.1" stroke="#000" stroke-width="1.2"/>
<line x1="593.66" y1="519.3" x2="593.66" y2="521.1" stroke="#000" stroke-width="1.2"/>
<line x1="634.68" y1="519.3" x2="634.68" y2="521.1" stroke="#000" stroke-width="1.2"/>
<line x1="675.7" y1="519.3" x2="675.7" y2="521.1" stroke="#000" stroke-width="1.2"/>
<line x1="491.1" y1="519.5" x2="488.1" y2="519.5" stroke="#000" stroke-width="1.3"/>
<line x1="491.1" y1="496.9" x2="488.1" y2="496.9" stroke="#000" stroke-width="1.3"/>
<line x1="491.1" y1="474.3" x2="488.1" y2="474.3" stroke="#000" stroke-width="1.3"/>
<line x1="491.1" y1="451.7" x2="488.1" y2="451.7" stroke="#000" stroke-width="1.3"/>
<line x1="491.1" y1="429.1" x2="488.1" y2="429.1" stroke="#000" stroke-width="1.3"/>
<line x1="491.1" y1="406.5" x2="488.1" y2="406.5" stroke="#000" stroke-width="1.3"/>
<line x1="491.1" y1="383.9" x2="488.1" y2="383.9" stroke="#000" stroke-width="1.3"/>
<line x1="491.1" y1="508.2" x2="489.3" y2="508.2" stroke="#000" stroke-width="1.2"/>
<line x1="491.1" y1="485.6" x2="489.3" y2="485.6" stroke="#000" stroke-width="1.2"/>
<line x1="491.1" y1="463" x2="489.3" y2="463" stroke="#000" stroke-width="1.2"/>
<line x1="491.1" y1="440.4" x2="489.3" y2="440.4" stroke="#000" stroke-width="1.2"/>
<line x1="491.1" y1="417.8" x2="489.3" y2="417.8" stroke="#000" stroke-width="1.2"/>
<line x1="491.1" y1="395.2" x2="489.3" y2="395.2" stroke="#000" stroke-width="1.2"/>
<text x="491.1" y="531" font-size="8.2" text-anchor="middle" font-weight="bold" transform="rotate(0.03 491.1 531)">700</text>
<text x="532.12" y="531" font-size="8.2" text-anchor="middle" font-weight="bold" transform="rotate(0.03 532.12 531)">900</text>
<text x="573.14" y="531" font-size="8.2" text-anchor="middle" font-weight="bold" transform="rotate(0.03 573.14 531)">1100</text>
<text x="614.17" y="531" font-size="8.2" text-anchor="middle" font-weight="bold" transform="rotate(0.03 614.17 531)">1300</text>
<text x="655.19" y="531" font-size="8.2" text-anchor="middle" font-weight="bold" transform="rotate(0.03 655.19 531)">1500</text>
<text x="486.1" y="521.96" font-size="8.2" text-anchor="end" font-weight="bold" transform="rotate(0.03 486.1 521.96)">0.0</text>
<text x="486.1" y="499.36" font-size="8.2" text-anchor="end" font-weight="bold" transform="rotate(0.03 486.1 499.36)">0.2</text>
<text x="486.1" y="476.76" font-size="8.2" text-anchor="end" font-weight="bold" transform="rotate(0.03 486.1 476.76)">0.4</text>
<text x="486.1" y="454.16" font-size="8.2" text-anchor="end" font-weight="bold" transform="rotate(0.03 486.1 454.16)">0.6</text>
<text x="486.1" y="431.56" font-size="8.2" text-anchor="end" font-weight="bold" transform="rotate(0.03 486.1 431.56)">0.8</text>
<text x="486.1" y="408.96" font-size="8.2" text-anchor="end" font-weight="bold" transform="rotate(0.03 486.1 408.96)">1.0</text>
<text x="486.1" y="386.36" font-size="8.2" text-anchor="end" font-weight="bold" transform="rotate(0.03 486.1 386.36)">1.2</text>
<text x="583.4" y="541.9" font-size="8.5" text-anchor="middle" font-weight="bold" transform="rotate(0.03 583.4 541.9)">Wavelength (nm)</text>
<text x="0" y="0" font-size="8.3" text-anchor="middle" font-weight="bold" transform="translate(470.2,446.15) rotate(-89.97)">Transmittance (a.u.)</text>
<polyline points="491.1,424.0 499.5,421.1 506.9,419.0 516.3,417.2 524.9,416.0 531.9,415.4 541.6,415.0 546.9,415.0 561.0,415.5 570.3,415.0 572.7,415.0 574.0,415.4 575.4,416.2 577.9,418.1 578.9,419.2 580.3,421.4 583.8,427.5 586.7,433.3 587.7,434.7 588.1,435.0 588.5,435.1 589.1,434.7 589.8,433.5 592.2,426.0 593.0,424.2 595.3,421.5 597.6,419.5 598.8,418.8 599.8,418.4 603.9,417.5 609.4,416.9 614.6,416.7 615.8,417.0 617.2,417.8 619.5,419.7 620.5,420.8 621.8,423.3 624.8,431.2 628.1,437.9 628.9,439.4 629.8,440.6 630.6,441.3 631.2,441.5 632.0,441.4 632.8,441.1 634.5,440.1 636.1,438.7 639.8,434.9 641.4,432.8 645.5,426.4 647.2,424.5 648.0,423.9 650.1,422.7 654.0,420.8 656.6,419.8 659.3,419.2 661.5,418.9 664.2,419.0 667.3,419.4 670.2,420.0 673.0,421.0 675.7,422.3" fill="none" stroke="#000" stroke-width="1.5" stroke-linejoin="round" stroke-dasharray="1.8,3.9" clip-path="url(#c22)"/>
<polyline points="491.1,441.5 491.3,441.3 491.7,442.4 491.9,442.1 492.1,442.6 492.5,440.5 492.7,442.2 492.9,442.3 493.2,441.3 493.6,441.7 493.8,442.7 494.2,441.3 494.4,443.1 494.6,442.3 494.8,443.6 495.0,443.1 495.2,443.6 495.4,442.2 495.6,443.1 495.8,441.7 496.2,442.2 496.4,444.3 496.6,442.5 496.8,442.1 497.0,441.9 497.3,443.4 497.5,442.5 497.7,442.9 497.9,442.8 498.1,441.1 498.3,442.8 498.7,441.3 498.9,442.6 499.3,442.0 499.5,442.0 499.7,443.2 500.1,440.9 500.3,443.5 500.5,441.3 500.9,442.7 501.2,440.3 501.6,443.2 501.8,442.0 502.0,441.6 502.2,442.3 502.4,441.5 502.6,442.1 503.0,440.8 503.2,442.6 503.4,441.8 503.6,442.4 503.8,441.8 504.0,443.0 504.4,442.0 504.6,441.0 504.8,440.7 505.0,442.9 505.3,442.3 505.5,441.0 505.7,443.3 506.3,440.1 506.7,441.4 506.9,441.4 507.1,441.2 507.3,439.5 507.5,441.2 507.7,441.0 507.9,440.3 508.1,440.6 508.3,440.6 508.5,441.3 508.7,440.2 508.9,440.5 509.1,439.0 509.6,439.8 509.8,439.1 510.0,439.9 510.2,438.5 510.4,439.4 510.6,438.7 510.8,440.3 511.0,438.7 511.2,440.4 511.4,440.6 511.6,438.9 511.8,439.2 512.0,438.1 512.2,436.0 512.4,438.6 513.0,436.8 513.3,437.2 513.5,436.9 513.7,435.9 513.9,435.8 514.1,437.0 514.3,435.9 514.5,435.5 514.7,436.3 514.9,434.8 515.1,435.6 515.3,433.7 515.5,434.2 515.7,434.0 515.9,434.4 516.1,433.7 516.3,435.2 516.7,432.6 516.9,434.6 517.1,431.6 517.4,433.7 517.6,431.2 517.8,432.4 518.0,430.7 518.2,431.0 518.4,432.2 518.6,429.4 518.8,429.0 519.0,430.1 519.2,430.0 519.4,429.6 519.6,430.1 519.8,427.9 520.0,429.1 520.2,428.4 520.4,428.8 520.6,428.4 520.8,428.7 521.0,426.1 521.3,427.1 521.5,425.8 521.9,426.7 522.1,426.1 522.3,426.0 522.5,425.2 522.7,425.3 522.9,424.9 523.1,425.6 523.3,424.8 523.5,422.3 523.7,424.1 523.9,424.1 524.3,421.3 524.5,423.6 524.7,422.2 524.9,422.3 525.1,423.0 525.4,420.4 525.6,420.8 525.8,420.3 526.0,420.7 526.2,419.3 526.4,419.8 526.6,419.1 526.8,419.6 527.0,419.4 527.2,416.7 527.4,418.0 527.6,417.0 528.0,417.0 528.2,416.7 528.4,415.4 528.6,416.0 529.0,415.2 529.3,414.0 529.7,414.3 530.1,415.7 530.3,413.5 530.5,413.3 530.7,414.3 530.9,413.5 531.5,412.9 531.7,414.1 531.9,412.2 532.1,414.6 532.3,412.7 532.5,412.9 532.9,411.5 533.1,411.8 533.4,414.1 533.6,414.5 533.8,412.2 534.0,413.8 534.4,412.0 534.6,414.2 534.8,414.6 535.0,412.4 535.4,412.7 535.6,412.4 536.0,413.7 536.2,412.5 536.6,413.8 536.8,411.8 537.0,412.3 537.2,411.8 537.5,413.1 537.7,412.8 537.9,413.1 538.1,413.0 538.3,412.0 538.5,412.9 538.7,411.8 538.9,411.9 539.1,410.4 539.3,413.6 539.5,411.6 539.7,412.5 539.9,412.6 540.1,414.0 540.5,412.2 540.7,413.1 540.9,413.1 541.1,413.6 541.4,412.5 541.8,415.8 542.0,414.6 542.4,417.3 542.8,413.4 543.2,416.0 543.4,415.9 543.6,414.2 543.8,415.2 544.2,415.6 544.4,415.6 544.6,415.0 544.8,415.3 545.0,415.7 545.2,417.0 545.5,415.7 545.7,416.9 545.9,415.4 546.1,417.6 546.3,416.7 546.5,416.7 546.7,418.0 546.9,415.3 547.1,415.6 547.3,417.5 547.5,416.5 547.7,416.9 547.9,419.7 548.1,417.2 548.3,417.6 548.5,417.5 548.7,418.6 548.9,418.0 549.1,418.0 549.4,416.8 549.8,418.0 550.0,416.6 550.2,418.5 550.4,418.4 550.6,419.7 550.8,416.7 551.0,417.3 551.4,417.5 551.6,418.0 551.8,417.9 552.0,418.3 552.4,418.0 552.6,416.6 553.0,417.9 553.2,418.3 553.5,418.3 553.7,416.2 553.9,417.1 554.3,417.8 554.5,418.4 554.9,416.4 555.1,417.4 555.5,417.1 555.7,416.7 555.9,418.1 556.1,416.8 556.3,417.2 556.5,415.5 556.7,416.9 557.1,414.6 557.4,416.1 557.6,416.3 557.8,415.4 558.0,415.5 558.2,416.3 558.6,413.3 558.8,415.3 559.0,415.1 559.2,415.7 559.4,414.4 559.6,415.7 559.8,415.5 560.0,413.2 560.2,415.1 560.4,413.2 560.6,412.7 560.8,413.7 561.0,413.3 561.2,412.0 561.5,413.8 561.9,414.7 562.3,411.9 562.5,412.2 562.7,413.8 563.1,413.2 563.3,412.3 563.5,412.7 563.9,411.9 564.1,412.4 564.5,411.6 564.7,411.8 565.1,409.8 565.4,410.8 565.6,411.2 565.8,412.6 566.0,410.6 566.2,412.6 566.4,412.0 566.6,409.9 566.8,409.9 567.2,411.9 567.4,410.6 567.6,410.8 568.0,408.1 568.2,409.9 568.4,410.7 568.6,411.0 568.8,410.0 569.0,410.1 569.2,410.9 569.5,409.8 569.7,410.9 569.9,408.9 570.3,409.0 570.5,410.4 570.7,409.6 570.9,410.2 571.1,410.5 571.3,410.5 571.5,411.4 571.7,411.6 571.9,409.7 572.1,410.6 572.5,409.7 572.7,412.3 573.1,410.8 573.3,410.7 573.6,411.5 573.8,410.3 574.2,412.6 574.4,412.4 574.6,411.0 574.8,411.4 575.0,413.7 575.2,410.9 575.4,411.7 575.6,411.1 575.8,412.8 576.0,412.9 576.2,413.8 576.4,410.6 576.6,413.2 576.8,411.7 577.0,413.9 577.2,413.3 577.5,415.1 577.9,413.0 578.1,415.1 578.3,413.2 578.7,415.4 578.9,415.1 579.1,415.3 579.3,415.1 579.7,416.3 579.9,416.0 580.3,417.4 580.7,416.0 580.9,418.4 581.1,417.3 581.6,418.7 581.8,417.3 582.0,418.8 582.2,417.2 582.4,419.5 582.6,418.7 583.0,420.2 583.2,419.2 583.4,420.1 583.6,419.6 584.0,421.5 584.2,420.8 584.4,420.8 584.6,420.2 584.8,422.0 585.0,421.4 585.2,423.0 585.5,421.0 585.9,423.5 586.3,421.2 586.5,423.7 586.9,423.2 587.1,423.7 587.3,422.5 587.5,423.7 587.7,423.7 587.9,422.6 588.1,424.0 588.3,423.0 588.5,424.3 588.9,425.3 589.1,422.0 589.3,424.0 589.6,423.6 589.8,423.9 590.0,423.7 590.2,423.9 590.4,422.2 590.6,424.8 590.8,425.3 591.0,424.7 591.2,424.9 591.4,422.9 591.6,422.7 591.8,424.1 592.0,424.3 592.4,421.4 592.6,425.0 592.8,421.7 593.0,422.9 593.2,420.7 593.5,422.3 593.7,421.3 593.9,422.1 594.1,421.3 594.3,418.9 594.5,419.1 594.7,419.8 594.9,419.9 595.1,420.5 595.3,418.9 595.5,418.2 595.9,417.6 596.1,418.2 596.9,414.4 597.1,415.9 597.3,416.2 597.6,415.4 597.8,415.6 598.0,415.5 598.2,414.6 598.4,415.2 598.6,413.4 598.8,413.8 599.0,413.2 599.4,413.5 599.6,413.4 599.8,412.5 600.0,412.5 600.2,411.5 600.4,411.5 600.6,412.4 600.8,410.8 601.0,411.8 601.4,410.4 601.7,411.7 601.9,409.5 602.1,409.2 602.5,409.2 602.7,409.0 602.9,409.3 603.1,408.5 603.3,408.5 603.5,407.7 603.7,408.7 603.9,407.3 604.1,407.2 604.5,407.5 604.7,406.4 604.9,408.3 605.1,406.3 605.3,406.4 605.8,406.0 606.0,406.8 606.4,405.4 606.8,405.6 607.0,407.1 607.2,405.2 607.4,404.5 607.6,404.6 607.8,405.3 608.0,406.8 608.2,404.5 608.6,407.7 608.8,405.0 609.0,406.8 609.2,406.6 609.4,406.1 609.7,404.5 609.9,406.0 610.1,405.6 610.3,404.4 610.5,404.7 610.7,406.4 610.9,406.7 611.1,407.8 611.3,407.4 611.5,406.6 611.9,407.4 612.1,406.8 612.3,408.7 612.7,407.8 612.9,408.2 613.1,408.1 613.6,409.9 613.8,409.6 614.2,412.0 614.4,410.3 614.6,411.1 614.8,411.1 615.0,413.2 615.2,412.3 615.6,413.4 615.8,415.0 616.2,412.8 616.6,415.0 617.0,414.6 617.2,418.3 617.4,416.4 617.7,416.3 617.9,416.7 618.1,416.3 618.5,418.6 618.7,419.2 618.9,419.3 619.1,421.1 619.3,421.2 619.7,420.6 619.9,423.1 620.3,423.9 620.5,423.4 620.7,425.2 620.9,424.4 621.1,427.1 621.3,426.9 621.6,427.4 621.8,427.0 622.0,427.3 622.2,430.1 622.4,430.0 622.6,429.2 623.0,431.8 623.2,429.9 623.6,431.2 623.8,432.5 624.0,431.5 624.2,433.1 624.4,432.3 624.6,434.5 624.8,434.9 625.0,434.3 625.2,435.5 625.4,434.7 625.9,436.8 626.1,436.3 626.3,437.0 626.5,436.2 626.7,437.9 626.9,438.1 627.3,436.2 627.5,436.7 627.7,438.6 627.9,438.7 628.1,437.7 628.5,440.3 628.7,439.5 628.9,439.3 629.3,441.5 629.6,441.5 629.8,439.8 630.0,441.2 630.2,440.8 630.6,440.4 630.8,441.3 631.0,440.7 631.2,442.1 631.4,441.7 631.6,442.4 631.8,440.6 632.2,442.4 632.4,442.2 632.6,442.1 632.8,441.3 633.0,443.5 633.4,442.4 633.7,439.8 634.1,442.2 634.5,440.1 634.7,442.1 634.9,442.2 635.1,440.6 635.3,441.2 635.5,440.8 635.7,441.8 635.9,439.4 636.1,439.4 636.3,440.2 636.5,439.9 636.7,442.1 636.9,439.5 637.1,440.0 637.5,438.7 638.0,440.4 638.2,438.2 638.4,439.0 638.6,438.3 638.8,438.3 639.0,437.8 639.2,439.3 639.4,435.8 639.6,436.4 640.0,434.3 640.4,437.2 640.6,436.1 640.8,436.2 641.2,434.5 641.4,436.2 641.7,433.8 641.9,435.2 642.1,433.3 642.3,433.4 642.5,433.3 642.7,432.8 642.9,432.9 643.1,432.7 643.3,433.4 643.7,429.6 643.9,429.1 644.3,429.7 644.5,430.6 644.7,428.4 644.9,429.5 645.3,429.1 645.5,428.4 645.8,428.6 646.0,428.0 646.2,428.6 646.4,427.7 646.6,425.0 646.8,426.9 647.0,426.8 647.4,425.4 647.6,426.8 648.0,424.4 648.2,424.8 648.4,424.7 648.6,423.1 648.8,424.9 649.0,424.0 649.2,424.3 649.4,422.2 649.7,425.1 649.9,423.7 650.1,423.3 650.3,422.0 650.5,421.8 650.7,420.9 650.9,423.3 651.1,421.0 651.3,421.7 651.5,421.8 651.7,420.5 652.1,422.4 652.3,420.7 652.5,421.5 652.9,419.4 653.1,419.2 653.3,417.9 653.8,420.3 654.0,419.4 654.4,419.5 654.6,417.8 655.0,419.6 655.2,417.0 655.4,417.6 655.6,417.0 655.8,417.1 656.0,416.5 656.2,416.9 656.4,415.7 656.6,416.3 657.0,416.0 657.2,417.6 657.4,416.3 657.7,416.2 657.9,415.7 658.1,416.9 658.3,414.1 658.7,416.4 658.9,416.7 659.1,415.3 659.3,415.0 659.5,415.5 659.7,414.6 659.9,415.2 660.1,414.0 660.3,415.0 660.7,413.3 660.9,411.8 661.1,414.9 661.3,414.3 661.5,414.6 661.8,413.1 662.0,414.8 662.4,413.6 662.6,414.5 662.8,414.4 663.0,414.0 663.2,415.4 663.8,413.4 664.0,413.7 664.2,415.2 664.6,413.0 664.8,413.3 665.2,414.7 665.4,413.5 665.9,415.3 666.1,415.1 666.3,413.2 666.5,414.4 666.7,413.7 666.9,415.3 667.1,414.2 667.3,415.7 667.5,415.5 667.7,413.2 668.1,416.3 668.5,415.9 668.7,415.3 669.1,418.3 669.3,417.1 669.5,417.1 669.8,417.2 670.0,416.2 670.2,417.3 670.4,417.1 670.6,419.0 671.0,416.5 671.2,417.9 671.6,419.0 671.8,417.8 672.0,420.5 672.4,419.8 672.6,419.8 672.8,421.2 673.0,420.8 673.2,421.7 673.4,421.6 673.9,423.5 674.3,422.3 674.5,424.4 674.9,423.6 675.1,425.5 675.3,424.8 675.5,426.3 675.7,424.7" fill="none" stroke="#ff1a1a" stroke-width="1.4" stroke-linejoin="round" clip-path="url(#c22)"/>
<rect x="491.1" y="373" width="184.6" height="146.3" fill="none" stroke="#000" stroke-width="1.6"/>
<line x1="495.5" y1="382" x2="511" y2="382" stroke="#ff1a1a" stroke-width="1.75"/>
<text x="514" y="384.77" font-size="7.7" text-anchor="start" font-weight="bold" transform="rotate(0.03 514 384.77)">Reconstructed, MSE = 6.08×10<tspan dy="-2.6" font-size="5.3">-3</tspan></text>
<line x1="495.5" y1="392.4" x2="511" y2="392.4" stroke="#000" stroke-width="1.5" stroke-dasharray="2.8,3.9"/>
<text x="514" y="395.17" font-size="7.7" text-anchor="start" font-weight="bold" transform="rotate(0.03 514 395.17)">Reference</text>
<text x="457.8" y="372.6" font-size="10.5" text-anchor="start" font-weight="bold" transform="rotate(0.03 457.8 372.6)">(i)</text>
<clipPath id="c03"><rect x="33.1" y="555.8" width="184.4" height="146.4"/></clipPath>
<line x1="33.1" y1="702.2" x2="33.1" y2="705.2" stroke="#000" stroke-width="1.3"/>
<line x1="79.2" y1="702.2" x2="79.2" y2="705.2" stroke="#000" stroke-width="1.3"/>
<line x1="125.3" y1="702.2" x2="125.3" y2="705.2" stroke="#000" stroke-width="1.3"/>
<line x1="171.4" y1="702.2" x2="171.4" y2="705.2" stroke="#000" stroke-width="1.3"/>
<line x1="217.5" y1="702.2" x2="217.5" y2="705.2" stroke="#000" stroke-width="1.3"/>
<line x1="56.15" y1="702.2" x2="56.15" y2="704" stroke="#000" stroke-width="1.2"/>
<line x1="102.25" y1="702.2" x2="102.25" y2="704" stroke="#000" stroke-width="1.2"/>
<line x1="148.35" y1="702.2" x2="148.35" y2="704" stroke="#000" stroke-width="1.2"/>
<line x1="194.45" y1="702.2" x2="194.45" y2="704" stroke="#000" stroke-width="1.2"/>
<line x1="33.1" y1="702.2" x2="30.1" y2="702.2" stroke="#000" stroke-width="1.3"/>
<line x1="33.1" y1="677.7" x2="30.1" y2="677.7" stroke="#000" stroke-width="1.3"/>
<line x1="33.1" y1="653.2" x2="30.1" y2="653.2" stroke="#000" stroke-width="1.3"/>
<line x1="33.1" y1="628.7" x2="30.1" y2="628.7" stroke="#000" stroke-width="1.3"/>
<line x1="33.1" y1="604.2" x2="30.1" y2="604.2" stroke="#000" stroke-width="1.3"/>
<line x1="33.1" y1="579.7" x2="30.1" y2="579.7" stroke="#000" stroke-width="1.3"/>
<line x1="33.1" y1="555.2" x2="30.1" y2="555.2" stroke="#000" stroke-width="1.3"/>
<line x1="33.1" y1="689.95" x2="31.3" y2="689.95" stroke="#000" stroke-width="1.2"/>
<line x1="33.1" y1="665.45" x2="31.3" y2="665.45" stroke="#000" stroke-width="1.2"/>
<line x1="33.1" y1="640.95" x2="31.3" y2="640.95" stroke="#000" stroke-width="1.2"/>
<line x1="33.1" y1="616.45" x2="31.3" y2="616.45" stroke="#000" stroke-width="1.2"/>
<line x1="33.1" y1="591.95" x2="31.3" y2="591.95" stroke="#000" stroke-width="1.2"/>
<line x1="33.1" y1="567.45" x2="31.3" y2="567.45" stroke="#000" stroke-width="1.2"/>
<text x="33.1" y="713.9" font-size="8.2" text-anchor="middle" font-weight="bold" transform="rotate(0.03 33.1 713.9)">3000</text>
<text x="79.2" y="713.9" font-size="8.2" text-anchor="middle" font-weight="bold" transform="rotate(0.03 79.2 713.9)">3500</text>
<text x="125.3" y="713.9" font-size="8.2" text-anchor="middle" font-weight="bold" transform="rotate(0.03 125.3 713.9)">4000</text>
<text x="171.4" y="713.9" font-size="8.2" text-anchor="middle" font-weight="bold" transform="rotate(0.03 171.4 713.9)">4500</text>
<text x="217.5" y="713.9" font-size="8.2" text-anchor="middle" font-weight="bold" transform="rotate(0.03 217.5 713.9)">5000</text>
<text x="28.1" y="704.66" font-size="8.2" text-anchor="end" font-weight="bold" transform="rotate(0.03 28.1 704.66)">0.0</text>
<text x="28.1" y="680.16" font-size="8.2" text-anchor="end" font-weight="bold" transform="rotate(0.03 28.1 680.16)">0.1</text>
<text x="28.1" y="655.66" font-size="8.2" text-anchor="end" font-weight="bold" transform="rotate(0.03 28.1 655.66)">0.2</text>
<text x="28.1" y="631.16" font-size="8.2" text-anchor="end" font-weight="bold" transform="rotate(0.03 28.1 631.16)">0.3</text>
<text x="28.1" y="606.66" font-size="8.2" text-anchor="end" font-weight="bold" transform="rotate(0.03 28.1 606.66)">0.4</text>
<text x="28.1" y="582.16" font-size="8.2" text-anchor="end" font-weight="bold" transform="rotate(0.03 28.1 582.16)">0.5</text>
<text x="28.1" y="557.66" font-size="8.2" text-anchor="end" font-weight="bold" transform="rotate(0.03 28.1 557.66)">0.6</text>
<text x="125.3" y="724.8" font-size="8.5" text-anchor="middle" font-weight="bold" transform="rotate(0.03 125.3 724.8)">Wavelength (nm)</text>
<text x="0" y="0" font-size="8.3" text-anchor="middle" font-weight="bold" transform="translate(12.2,629) rotate(-89.97)">Transmittance (a.u.)</text>
<polyline points="33.1,679.4 36.6,679.1 40.5,678.3 45.5,676.5 47.1,675.8 48.2,675.1 50.2,673.3 52.5,670.5 54.9,666.8 58.0,661.4 60.0,657.1 62.2,651.2 64.6,643.9 68.9,629.9 70.5,623.7 74.4,607.3 76.2,600.9 77.2,598.5 79.4,594.0 80.5,592.4 81.0,592.0 81.4,592.0 82.3,592.3 83.3,593.3 84.7,595.6 86.0,598.0 87.1,601.5 89.5,611.2 90.6,615.2 92.8,620.7 95.2,625.8 97.1,629.1 98.9,631.8 103.4,637.2 106.1,640.1 107.6,641.2 108.9,641.8 110.2,642.2 111.5,642.1 112.6,641.7 113.7,641.1 118.7,637.4 120.9,636.3 123.5,635.7 126.8,635.1 129.4,634.9 131.6,634.8 132.5,635.0 133.4,635.5 135.3,636.9 137.3,639.1 139.9,642.6 141.2,644.8 142.1,647.0 143.0,650.0 143.7,653.2 144.3,659.7 145.6,684.3 146.0,687.4 146.1,687.5 146.7,686.4 148.0,681.5 148.5,680.3 148.7,680.2 149.1,680.6 150.4,684.6 150.6,684.9 150.9,685.0 151.7,684.7 152.4,684.0 154.8,680.7 155.7,679.6 156.5,679.1 157.0,678.9 158.5,679.1 160.3,679.8 165.7,683.0 167.5,683.9 172.5,685.3 176.4,686.0 179.7,686.3 181.9,686.0 184.3,685.3 186.7,684.2 189.5,682.5 198.3,676.6 202.2,673.8 205.9,670.7 209.6,667.4 213.4,663.6 217.5,659.3" fill="none" stroke="#000" stroke-width="1.5" stroke-linejoin="round" stroke-dasharray="1.8,3.9" clip-path="url(#c03)"/>
<polyline points="33.1,645.4 35.1,647.2 35.9,647.6 36.6,647.8 38.6,647.7 41.4,647.3 43.8,646.5 46.7,644.7 50.2,642.0 51.7,640.3 55.4,635.2 57.1,633.4 58.5,632.4 60.2,631.6 61.3,631.2 62.4,631.2 63.3,631.5 64.3,632.1 68.9,636.1 74.6,640.0 80.7,643.9 83.3,645.7 91.6,652.6 95.8,656.5 97.3,657.2 98.7,657.4 101.3,657.0 104.3,656.3 108.2,655.0 110.4,653.9 112.9,652.1 116.6,649.0 117.9,647.5 121.1,643.1 122.5,641.6 123.3,641.0 124.0,640.7 124.7,640.7 125.5,640.9 126.6,641.5 127.9,642.4 130.5,644.6 132.1,646.3 134.0,648.5 137.1,652.6 139.9,655.7 140.8,657.1 141.7,658.9 142.4,660.8 142.8,662.7 145.8,687.1 146.1,689.2 146.5,690.0 146.9,689.3 148.0,683.9 148.3,682.9 148.5,682.9 148.7,683.4 149.5,687.5 149.8,688.5 150.0,688.4 150.4,687.6 151.5,683.1 152.0,681.5 153.7,679.8 154.6,679.2 155.4,678.8 156.6,678.7 158.9,679.0 165.1,680.7 171.0,682.4 174.0,683.1 177.1,683.3 179.9,683.0 181.7,682.5 183.9,681.7 193.9,677.4 217.5,665.5" fill="none" stroke="#ff1a1a" stroke-width="1.5" stroke-linejoin="round" clip-path="url(#c03)"/>
<polyline points="33.1,674.5 35.7,674.3 38.6,673.6 44.0,671.8 46.0,670.9 48.6,669.3 51.4,667.0 53.2,665.2 54.9,662.9 56.5,660.2 58.4,656.8 59.7,653.9 61.3,649.6 65.0,639.4 69.4,625.8 72.2,616.8 73.7,612.7 76.8,606.3 77.7,605.1 78.3,604.7 78.6,604.7 79.6,605.0 80.7,605.8 82.7,608.0 83.4,609.1 84.7,612.1 87.1,618.9 88.1,621.2 91.4,627.8 94.3,632.7 96.2,635.3 101.3,641.3 103.5,643.4 105.4,644.7 106.9,645.3 108.2,645.3 109.8,645.0 111.5,644.1 113.3,642.8 117.4,639.6 120.1,637.5 125.7,632.6 127.0,631.7 128.1,631.1 129.5,630.7 130.6,630.8 131.8,631.5 133.0,632.9 134.7,635.3 138.2,641.2 140.6,644.7 141.5,646.7 142.3,649.2 142.6,651.8 143.6,666.5 144.8,682.2 145.4,687.4 145.8,689.4 146.0,689.9 146.1,689.9 146.3,689.6 146.7,688.3 148.0,680.8 148.5,678.8 148.7,678.7 149.1,679.4 150.2,685.5 150.6,686.8 150.7,687.0 151.3,686.8 152.0,686.0 152.8,684.8 155.5,679.2 156.3,678.3 157.0,677.9 160.2,678.3 163.1,678.9 164.0,679.2 166.2,680.6 171.4,685.2 173.6,686.7 179.7,689.1 181.9,689.8 183.9,690.1 187.1,690.2 191.5,689.9 196.1,689.3 203.1,688.3 209.8,686.9 217.5,684.6" fill="none" stroke="#1a1aff" stroke-width="1.5" stroke-linejoin="round" clip-path="url(#c03)"/>
<rect x="33.1" y="555.8" width="184.4" height="146.4" fill="none" stroke="#000" stroke-width="1.6"/>
<line x1="37.3" y1="564.9" x2="53" y2="564.9" stroke="#ff1a1a" stroke-width="1.6"/>
<text x="55.6" y="567.67" font-size="7.7" text-anchor="start" font-weight="bold" transform="rotate(0.03 55.6 567.67)">Reconstructed-Exp, MSE = 6.81×10<tspan dy="-2.6" font-size="5.3">-3</tspan></text>
<line x1="37.3" y1="575.35" x2="53" y2="575.35" stroke="#1a1aff" stroke-width="1.6"/>
<text x="55.6" y="578.12" font-size="7.7" text-anchor="start" font-weight="bold" transform="rotate(0.03 55.6 578.12)">Reconstructed-Cal, MSE = 1.06×10<tspan dy="-2.6" font-size="5.3">-3</tspan></text>
<line x1="37.3" y1="585.8" x2="53" y2="585.8" stroke="#000" stroke-width="1.5" stroke-dasharray="2.8,3.9"/>
<text x="55.6" y="588.57" font-size="7.7" text-anchor="start" font-weight="bold" transform="rotate(0.03 55.6 588.57)">Reference</text>
<text x="0.8" y="554.8" font-size="10.5" text-anchor="start" font-weight="bold" transform="rotate(0.03 0.8 554.8)">(j)</text>
<clipPath id="c13"><rect x="262.1" y="555.8" width="184.4" height="146.4"/></clipPath>
<line x1="262.1" y1="702.2" x2="262.1" y2="705.2" stroke="#000" stroke-width="1.3"/>
<line x1="308.2" y1="702.2" x2="308.2" y2="705.2" stroke="#000" stroke-width="1.3"/>
<line x1="354.3" y1="702.2" x2="354.3" y2="705.2" stroke="#000" stroke-width="1.3"/>
<line x1="400.4" y1="702.2" x2="400.4" y2="705.2" stroke="#000" stroke-width="1.3"/>
<line x1="446.5" y1="702.2" x2="446.5" y2="705.2" stroke="#000" stroke-width="1.3"/>
<line x1="285.15" y1="702.2" x2="285.15" y2="704" stroke="#000" stroke-width="1.2"/>
<line x1="331.25" y1="702.2" x2="331.25" y2="704" stroke="#000" stroke-width="1.2"/>
<line x1="377.35" y1="702.2" x2="377.35" y2="704" stroke="#000" stroke-width="1.2"/>
<line x1="423.45" y1="702.2" x2="423.45" y2="704" stroke="#000" stroke-width="1.2"/>
<line x1="262.1" y1="702.2" x2="259.1" y2="702.2" stroke="#000" stroke-width="1.3"/>
<line x1="262.1" y1="675.5" x2="259.1" y2="675.5" stroke="#000" stroke-width="1.3"/>
<line x1="262.1" y1="648.8" x2="259.1" y2="648.8" stroke="#000" stroke-width="1.3"/>
<line x1="262.1" y1="622.1" x2="259.1" y2="622.1" stroke="#000" stroke-width="1.3"/>
<line x1="262.1" y1="595.4" x2="259.1" y2="595.4" stroke="#000" stroke-width="1.3"/>
<line x1="262.1" y1="568.7" x2="259.1" y2="568.7" stroke="#000" stroke-width="1.3"/>
<line x1="262.1" y1="688.85" x2="260.3" y2="688.85" stroke="#000" stroke-width="1.2"/>
<line x1="262.1" y1="662.15" x2="260.3" y2="662.15" stroke="#000" stroke-width="1.2"/>
<line x1="262.1" y1="635.45" x2="260.3" y2="635.45" stroke="#000" stroke-width="1.2"/>
<line x1="262.1" y1="608.75" x2="260.3" y2="608.75" stroke="#000" stroke-width="1.2"/>
<line x1="262.1" y1="582.05" x2="260.3" y2="582.05" stroke="#000" stroke-width="1.2"/>
<line x1="262.1" y1="555.35" x2="260.3" y2="555.35" stroke="#000" stroke-width="1.2"/>
<text x="262.1" y="713.9" font-size="8.2" text-anchor="middle" font-weight="bold" transform="rotate(0.03 262.1 713.9)">3000</text>
<text x="308.2" y="713.9" font-size="8.2" text-anchor="middle" font-weight="bold" transform="rotate(0.03 308.2 713.9)">3500</text>
<text x="354.3" y="713.9" font-size="8.2" text-anchor="middle" font-weight="bold" transform="rotate(0.03 354.3 713.9)">4000</text>
<text x="400.4" y="713.9" font-size="8.2" text-anchor="middle" font-weight="bold" transform="rotate(0.03 400.4 713.9)">4500</text>
<text x="446.5" y="713.9" font-size="8.2" text-anchor="middle" font-weight="bold" transform="rotate(0.03 446.5 713.9)">5000</text>
<text x="257.1" y="704.66" font-size="8.2" text-anchor="end" font-weight="bold" transform="rotate(0.03 257.1 704.66)">0.0</text>
<text x="257.1" y="677.96" font-size="8.2" text-anchor="end" font-weight="bold" transform="rotate(0.03 257.1 677.96)">0.2</text>
<text x="257.1" y="651.26" font-size="8.2" text-anchor="end" font-weight="bold" transform="rotate(0.03 257.1 651.26)">0.4</text>
<text x="257.1" y="624.56" font-size="8.2" text-anchor="end" font-weight="bold" transform="rotate(0.03 257.1 624.56)">0.6</text>
<text x="257.1" y="597.86" font-size="8.2" text-anchor="end" font-weight="bold" transform="rotate(0.03 257.1 597.86)">0.8</text>
<text x="257.1" y="571.16" font-size="8.2" text-anchor="end" font-weight="bold" transform="rotate(0.03 257.1 571.16)">1.0</text>
<text x="354.3" y="724.8" font-size="8.5" text-anchor="middle" font-weight="bold" transform="rotate(0.03 354.3 724.8)">Wavelength (nm)</text>
<text x="0" y="0" font-size="8.3" text-anchor="middle" font-weight="bold" transform="translate(241.2,629) rotate(-89.97)">Transmittance (a.u.)</text>
<polyline points="262.1,615.0 266.7,615.6 271.9,616.9 277.6,618.7 284.4,621.4 286.8,622.4 288.8,623.5 297.5,629.6 299.5,630.8 301.7,631.8 307.1,634.1 336.4,645.3 340.1,646.9 343.1,648.4 346.0,650.2 349.5,652.6 362.2,662.1 366.7,665.7 370.7,669.4 376.8,676.8 378.3,678.3 379.9,679.7 382.5,681.5 385.5,683.4 389.3,685.4 393.0,687.2 397.1,688.9 401.7,690.4 407.2,691.9 413.7,693.3 420.7,694.6 429.2,696.0 438.2,697.2 446.5,698.2" fill="none" stroke="#000" stroke-width="1.5" stroke-linejoin="round" stroke-dasharray="1.8,3.9" clip-path="url(#c13)"/>
<polyline points="262.1,604.3 264.3,603.1 266.0,602.3 267.6,601.7 269.1,601.5 273.2,601.7 278.0,602.4 279.8,603.0 281.8,604.0 284.4,605.8 287.2,608.1 289.2,610.4 291.2,613.2 294.9,619.2 298.6,628.4 299.3,629.9 300.1,631.0 302.1,633.0 307.1,636.7 312.6,642.2 315.0,644.2 317.8,646.2 320.7,648.1 324.1,650.0 327.4,651.7 331.2,653.4 336.8,655.7 346.9,659.4 355.2,662.8 364.6,667.3 366.8,668.6 368.9,670.0 370.7,671.6 371.3,672.4 371.6,673.3 372.9,684.2 374.2,690.9 374.8,692.7 375.1,693.2 375.3,693.2 375.5,692.7 376.4,687.5 376.8,686.2 377.0,686.2 377.2,686.7 378.1,691.3 378.3,691.5 378.5,691.5 379.0,691.0 379.6,690.1 381.6,685.4 382.5,683.8 384.9,682.0 385.8,681.6 386.8,681.4 389.0,681.5 391.7,682.2 399.8,684.7 407.2,687.6 409.3,688.1 411.1,688.4 426.4,688.4 430.6,688.4 437.6,687.9 446.5,687.0" fill="none" stroke="#ff1a1a" stroke-width="1.5" stroke-linejoin="round" clip-path="url(#c13)"/>
<polyline points="262.1,615.0 262.3,614.1 262.5,614.3 262.7,615.5 262.8,615.4 263.0,615.5 263.2,614.8 263.4,615.3 263.6,614.8 263.8,616.6 263.9,614.3 264.1,615.5 264.3,615.0 264.5,615.6 264.7,615.8 265.1,615.1 265.2,615.8 265.4,615.8 265.6,615.3 266.0,616.8 266.2,615.6 266.5,617.2 266.7,616.5 266.9,616.4 267.3,617.1 267.6,615.6 268.0,616.8 268.2,616.1 268.4,615.9 268.6,616.7 268.9,615.9 269.3,617.2 269.5,616.5 269.7,616.6 269.8,616.1 270.0,617.7 270.2,617.4 270.4,617.5 270.6,618.2 270.8,617.0 271.0,616.8 271.1,617.7 271.3,616.3 271.5,616.8 271.9,617.1 272.1,616.8 272.2,618.4 272.4,617.2 272.6,617.2 272.8,618.9 273.0,617.5 273.2,618.0 273.3,617.3 273.5,618.2 273.9,617.8 274.1,618.7 274.3,617.8 274.5,618.3 274.6,617.9 274.8,618.7 275.0,617.7 275.4,618.6 275.9,617.5 276.1,619.8 276.3,618.2 276.9,619.7 277.0,618.3 277.2,620.0 277.4,618.9 277.6,618.4 277.8,620.4 278.0,619.6 278.1,620.4 278.5,618.7 278.7,618.4 278.9,621.0 279.4,619.0 279.8,620.7 280.0,620.1 280.5,621.0 280.7,620.3 281.3,621.0 281.5,621.8 281.8,620.3 282.2,622.2 282.4,620.4 282.6,621.0 282.8,620.1 282.9,621.5 283.3,622.7 283.7,620.2 283.9,622.5 284.0,622.5 284.2,621.8 284.4,622.8 284.6,622.5 284.8,622.7 285.2,621.9 285.3,622.7 285.5,622.2 285.7,623.1 285.9,622.7 286.1,624.5 286.3,624.1 286.4,622.7 286.6,623.7 286.8,623.0 287.0,623.2 287.2,622.7 287.4,623.2 287.5,623.2 287.9,624.5 288.1,624.7 288.3,624.7 288.5,625.2 289.0,624.7 289.4,626.4 289.6,625.3 289.8,625.2 289.9,624.8 290.3,626.2 290.5,626.4 290.7,624.7 290.9,625.7 291.1,625.1 291.2,625.1 291.4,627.2 291.6,626.5 292.2,626.8 292.5,627.4 292.7,628.6 292.9,627.9 293.1,628.4 293.3,627.9 293.4,628.5 293.6,627.9 293.8,627.9 294.6,629.2 294.7,629.2 294.9,629.5 295.1,629.0 295.3,629.4 295.5,629.1 295.7,630.5 295.8,629.1 296.0,630.3 296.2,630.4 296.4,630.1 296.6,630.5 296.8,630.0 297.1,631.1 297.3,631.0 297.5,629.6 297.9,631.4 298.1,630.7 298.2,631.8 298.4,629.6 298.6,631.9 298.8,630.6 299.0,630.6 299.2,631.9 299.5,630.4 299.9,630.9 300.1,630.4 300.3,630.9 300.5,630.8 300.6,631.1 300.8,630.6 301.0,631.7 301.2,630.5 301.6,631.8 301.9,629.9 302.3,631.4 302.5,630.6 302.7,631.3 303.0,631.0 303.2,632.6 303.4,630.9 303.6,631.7 303.8,631.5 304.0,632.0 304.1,632.1 304.3,631.7 304.7,629.9 304.9,631.1 305.1,630.3 305.4,632.3 305.6,630.9 305.8,630.7 306.0,631.3 306.4,630.7 306.7,632.0 306.9,631.2 307.3,631.3 307.6,629.9 307.8,631.4 308.0,630.6 308.2,630.5 308.4,630.7 308.6,630.5 308.8,631.4 309.1,629.9 309.5,631.7 309.9,630.6 310.2,631.8 310.4,630.6 310.6,632.3 310.8,631.3 311.2,632.5 311.3,631.1 311.7,632.6 311.9,631.6 312.3,633.2 312.6,632.1 312.8,631.9 313.2,632.4 313.4,632.2 313.5,632.7 313.7,632.0 313.9,632.6 314.3,632.5 314.5,633.4 314.7,633.3 314.8,632.3 315.2,633.4 315.4,633.1 315.6,633.7 315.8,633.4 315.9,633.9 316.1,633.6 316.3,634.6 316.5,633.4 316.9,634.9 317.1,634.4 317.2,634.6 317.4,634.5 317.6,635.3 318.0,633.5 318.2,635.7 318.3,635.2 318.5,635.6 318.7,635.5 318.9,636.5 319.1,636.4 319.3,635.9 319.4,636.2 319.6,635.7 319.8,636.8 320.0,636.6 320.2,635.7 320.4,637.3 320.6,637.5 320.7,637.3 320.9,637.5 321.1,637.3 321.5,638.2 321.7,638.0 321.8,637.3 322.2,639.4 322.4,638.7 322.6,639.1 322.8,638.7 323.0,639.1 323.1,638.6 323.3,639.1 323.9,639.8 324.2,639.7 324.6,640.5 324.8,640.2 325.3,641.2 325.7,641.5 325.9,642.1 326.1,641.4 326.5,642.0 326.6,641.9 327.0,642.3 327.2,643.1 327.4,642.8 327.7,642.7 327.9,642.8 328.5,644.1 328.7,643.7 328.9,644.0 329.0,644.0 329.6,644.9 329.8,644.7 330.0,645.0 331.1,645.8 331.6,646.5 331.8,646.4 332.0,646.7 333.5,648.1 334.0,648.4 334.2,648.7 346.4,658.6 350.1,661.4 353.6,663.8 365.0,671.1 368.7,673.0 369.6,673.6 370.5,674.5 371.6,675.9 372.0,677.2 373.5,686.5 374.4,691.5 374.8,693.3 375.1,694.1 375.5,694.1 376.1,693.4 378.1,689.1 380.1,686.2 381.4,684.7 382.3,683.9 383.6,683.2 385.1,682.5 386.4,682.2 388.0,682.2 390.1,682.7 397.1,685.2 405.2,687.4 408.3,688.1 411.1,688.4 415.2,688.3 426.0,687.0 436.9,686.1 446.5,685.5" fill="none" stroke="#1a1aff" stroke-width="1.5" stroke-linejoin="round" clip-path="url(#c13)"/>
<rect x="262.1" y="555.8" width="184.4" height="146.4" fill="none" stroke="#000" stroke-width="1.6"/>
<line x1="266.3" y1="564.9" x2="282" y2="564.9" stroke="#ff1a1a" stroke-width="1.6"/>
<text x="284.9" y="567.67" font-size="7.7" text-anchor="start" font-weight="bold" transform="rotate(0.03 284.9 567.67)">Reconstructed-Exp, MSE = 3.78×10<tspan dy="-2.6" font-size="5.3">-3</tspan></text>
<line x1="266.3" y1="575.35" x2="282" y2="575.35" stroke="#1a1aff" stroke-width="1.6"/>
<text x="284.9" y="578.12" font-size="7.7" text-anchor="start" font-weight="bold" transform="rotate(0.03 284.9 578.12)">Reconstructed-Cal, MSE = 1.84×10<tspan dy="-2.6" font-size="5.3">-3</tspan></text>
<line x1="266.3" y1="585.8" x2="282" y2="585.8" stroke="#000" stroke-width="1.5" stroke-dasharray="2.8,3.9"/>
<text x="284.9" y="588.57" font-size="7.7" text-anchor="start" font-weight="bold" transform="rotate(0.03 284.9 588.57)">Reference</text>
<text x="227.5" y="554.8" font-size="10.5" text-anchor="start" font-weight="bold" transform="rotate(0.03 227.5 554.8)">(k)</text>
<clipPath id="c23"><rect x="491.1" y="555.8" width="184.6" height="146.4"/></clipPath>
<line x1="491.1" y1="702.2" x2="491.1" y2="705.2" stroke="#000" stroke-width="1.3"/>
<line x1="537.25" y1="702.2" x2="537.25" y2="705.2" stroke="#000" stroke-width="1.3"/>
<line x1="583.4" y1="702.2" x2="583.4" y2="705.2" stroke="#000" stroke-width="1.3"/>
<line x1="629.55" y1="702.2" x2="629.55" y2="705.2" stroke="#000" stroke-width="1.3"/>
<line x1="675.7" y1="702.2" x2="675.7" y2="705.2" stroke="#000" stroke-width="1.3"/>
<line x1="514.18" y1="702.2" x2="514.18" y2="704" stroke="#000" stroke-width="1.2"/>
<line x1="560.33" y1="702.2" x2="560.33" y2="704" stroke="#000" stroke-width="1.2"/>
<line x1="606.48" y1="702.2" x2="606.48" y2="704" stroke="#000" stroke-width="1.2"/>
<line x1="652.62" y1="702.2" x2="652.62" y2="704" stroke="#000" stroke-width="1.2"/>
<line x1="491.1" y1="699.1" x2="488.1" y2="699.1" stroke="#000" stroke-width="1.3"/>
<line x1="491.1" y1="675.1" x2="488.1" y2="675.1" stroke="#000" stroke-width="1.3"/>
<line x1="491.1" y1="651.1" x2="488.1" y2="651.1" stroke="#000" stroke-width="1.3"/>
<line x1="491.1" y1="627.1" x2="488.1" y2="627.1" stroke="#000" stroke-width="1.3"/>
<line x1="491.1" y1="603.1" x2="488.1" y2="603.1" stroke="#000" stroke-width="1.3"/>
<line x1="491.1" y1="579.1" x2="488.1" y2="579.1" stroke="#000" stroke-width="1.3"/>
<line x1="491.1" y1="555.1" x2="488.1" y2="555.1" stroke="#000" stroke-width="1.3"/>
<line x1="491.1" y1="687.1" x2="489.3" y2="687.1" stroke="#000" stroke-width="1.2"/>
<line x1="491.1" y1="663.1" x2="489.3" y2="663.1" stroke="#000" stroke-width="1.2"/>
<line x1="491.1" y1="639.1" x2="489.3" y2="639.1" stroke="#000" stroke-width="1.2"/>
<line x1="491.1" y1="615.1" x2="489.3" y2="615.1" stroke="#000" stroke-width="1.2"/>
<line x1="491.1" y1="591.1" x2="489.3" y2="591.1" stroke="#000" stroke-width="1.2"/>
<line x1="491.1" y1="567.1" x2="489.3" y2="567.1" stroke="#000" stroke-width="1.2"/>
<text x="491.1" y="713.9" font-size="8.2" text-anchor="middle" font-weight="bold" transform="rotate(0.03 491.1 713.9)">3800</text>
<text x="537.25" y="713.9" font-size="8.2" text-anchor="middle" font-weight="bold" transform="rotate(0.03 537.25 713.9)">3900</text>
<text x="583.4" y="713.9" font-size="8.2" text-anchor="middle" font-weight="bold" transform="rotate(0.03 583.4 713.9)">4000</text>
<text x="629.55" y="713.9" font-size="8.2" text-anchor="middle" font-weight="bold" transform="rotate(0.03 629.55 713.9)">4100</text>
<text x="675.7" y="713.9" font-size="8.2" text-anchor="middle" font-weight="bold" transform="rotate(0.03 675.7 713.9)">4200</text>
<text x="486.1" y="701.56" font-size="8.2" text-anchor="end" font-weight="bold" transform="rotate(0.03 486.1 701.56)">0.0</text>
<text x="486.1" y="677.56" font-size="8.2" text-anchor="end" font-weight="bold" transform="rotate(0.03 486.1 677.56)">0.2</text>
<text x="486.1" y="653.56" font-size="8.2" text-anchor="end" font-weight="bold" transform="rotate(0.03 486.1 653.56)">0.4</text>
<text x="486.1" y="629.56" font-size="8.2" text-anchor="end" font-weight="bold" transform="rotate(0.03 486.1 629.56)">0.6</text>
<text x="486.1" y="605.56" font-size="8.2" text-anchor="end" font-weight="bold" transform="rotate(0.03 486.1 605.56)">0.8</text>
<text x="486.1" y="581.56" font-size="8.2" text-anchor="end" font-weight="bold" transform="rotate(0.03 486.1 581.56)">1.0</text>
<text x="486.1" y="557.56" font-size="8.2" text-anchor="end" font-weight="bold" transform="rotate(0.03 486.1 557.56)">1.2</text>
<text x="583.4" y="724.8" font-size="8.5" text-anchor="middle" font-weight="bold" transform="rotate(0.03 583.4 724.8)">Wavelength (nm)</text>
<text x="0" y="0" font-size="8.3" text-anchor="middle" font-weight="bold" transform="translate(470.2,629) rotate(-89.97)">Transmittance (a.u.)</text>
<polyline points="491.1,699.1 530.3,699.1 537.2,612.1 544.2,699.1 675.7,699.1" fill="none" stroke="#b41ee6" stroke-width="1.2" stroke-linejoin="round" clip-path="url(#c23)"/>
<polyline points="491.1,699.1 553.4,699.1 560.3,616.9 567.2,699.1 675.7,699.1" fill="none" stroke="#3366ff" stroke-width="1.2" stroke-linejoin="round" clip-path="url(#c23)"/>
<polyline points="491.1,699.1 576.5,699.1 583.4,616.3 590.3,699.1 675.7,699.1" fill="none" stroke="#22dd22" stroke-width="1.2" stroke-linejoin="round" clip-path="url(#c23)"/>
<polyline points="491.1,699.1 599.6,699.1 606.5,616.3 613.4,699.1 675.7,699.1" fill="none" stroke="#eee030" stroke-width="1.2" stroke-linejoin="round" clip-path="url(#c23)"/>
<polyline points="491.1,699.1 622.6,699.1 629.6,615.1 636.5,699.1 675.7,699.1" fill="none" stroke="#ff4444" stroke-width="1.2" stroke-linejoin="round" clip-path="url(#c23)"/>
<line x1="491.1" y1="699.1" x2="675.7" y2="699.1" stroke="#000" stroke-width="1.5" stroke-dasharray="1.8,3.9"/>
<polyline points="530.8,699.1 537.2,579.1 543.7,699.1" fill="none" stroke="#000" stroke-width="1.5" stroke-linejoin="round" stroke-dasharray="1.8,3.9" clip-path="url(#c23)"/>
<polyline points="553.9,699.1 560.3,579.1 566.8,699.1" fill="none" stroke="#000" stroke-width="1.5" stroke-linejoin="round" stroke-dasharray="1.8,3.9" clip-path="url(#c23)"/>
<polyline points="576.9,699.1 583.4,579.1 589.9,699.1" fill="none" stroke="#000" stroke-width="1.5" stroke-linejoin="round" stroke-dasharray="1.8,3.9" clip-path="url(#c23)"/>
<polyline points="600.0,699.1 606.5,579.1 612.9,699.1" fill="none" stroke="#000" stroke-width="1.5" stroke-linejoin="round" stroke-dasharray="1.8,3.9" clip-path="url(#c23)"/>
<polyline points="623.1,699.1 629.6,579.1 636.0,699.1" fill="none" stroke="#000" stroke-width="1.5" stroke-linejoin="round" stroke-dasharray="1.8,3.9" clip-path="url(#c23)"/>
<rect x="491.1" y="555.8" width="184.6" height="146.4" fill="none" stroke="#000" stroke-width="1.6"/>
<line x1="495.8" y1="563.7" x2="511.7" y2="563.7" stroke="#b030d8" stroke-width="1.6"/>
<text x="513.9" y="566.47" font-size="7.7" text-anchor="start" font-weight="bold" transform="rotate(0.03 513.9 566.47)">Reconstructed, average MSE = 3.36×10<tspan dy="-2.6" font-size="5.3">-4</tspan></text>
<line x1="495.8" y1="573.9" x2="511.7" y2="573.9" stroke="#000" stroke-width="1.5" stroke-dasharray="2.8,3.9"/>
<text x="513.9" y="576.67" font-size="7.7" text-anchor="start" font-weight="bold" transform="rotate(0.03 513.9 576.67)">Reference</text>
<text x="457.8" y="554.8" font-size="10.5" text-anchor="start" font-weight="bold" transform="rotate(0.03 457.8 554.8)">(l)</text>
</svg></body></html>
